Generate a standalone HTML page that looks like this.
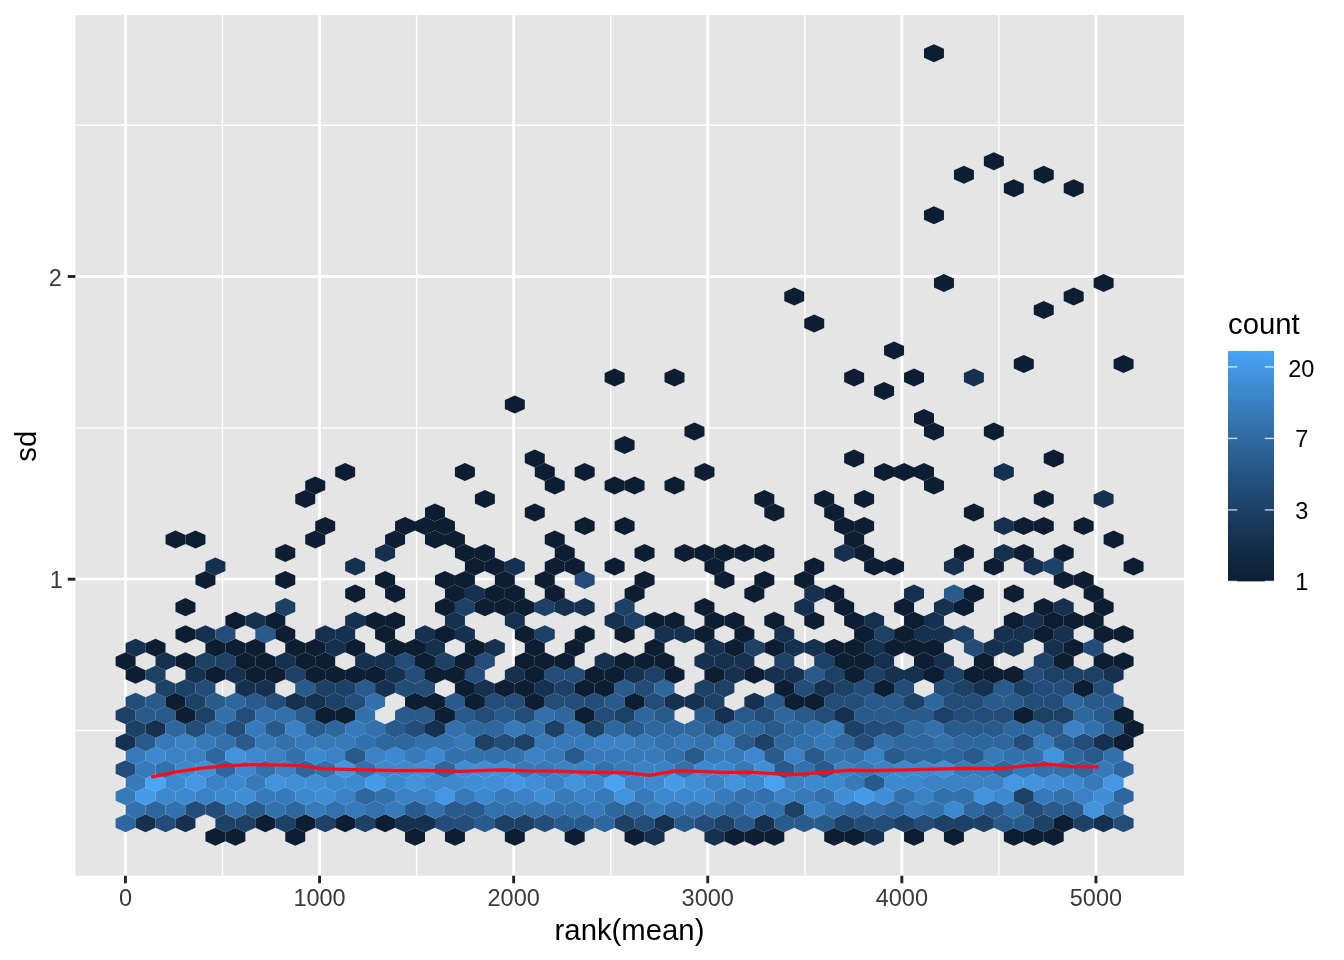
<!DOCTYPE html><html><head><meta charset="utf-8"><title>meanSdPlot</title><style>html,body{margin:0;padding:0;background:#fff}svg{display:block;will-change:transform}text{font-family:"Liberation Sans",sans-serif}</style></head><body>
<svg width="1344" height="960" viewBox="0 0 1344 960">
<rect width="1344" height="960" fill="#fff"/>
<rect x="75.4" y="15.1" width="1108.5" height="860.6" fill="#e5e5e5"/>
<line x1="222.50" x2="222.50" y1="15.1" y2="875.7" stroke="#fff" stroke-width="1.45"/>
<line x1="416.60" x2="416.60" y1="15.1" y2="875.7" stroke="#fff" stroke-width="1.45"/>
<line x1="610.70" x2="610.70" y1="15.1" y2="875.7" stroke="#fff" stroke-width="1.45"/>
<line x1="804.80" x2="804.80" y1="15.1" y2="875.7" stroke="#fff" stroke-width="1.45"/>
<line x1="998.90" x2="998.90" y1="15.1" y2="875.7" stroke="#fff" stroke-width="1.45"/>
<line x1="75.4" x2="1183.9" y1="730.55" y2="730.55" stroke="#fff" stroke-width="1.45"/>
<line x1="75.4" x2="1183.9" y1="427.85" y2="427.85" stroke="#fff" stroke-width="1.45"/>
<line x1="75.4" x2="1183.9" y1="125.20" y2="125.20" stroke="#fff" stroke-width="1.45"/>
<line x1="125.45" x2="125.45" y1="15.1" y2="875.7" stroke="#fff" stroke-width="2.8"/>
<line x1="319.55" x2="319.55" y1="15.1" y2="875.7" stroke="#fff" stroke-width="2.8"/>
<line x1="513.65" x2="513.65" y1="15.1" y2="875.7" stroke="#fff" stroke-width="2.8"/>
<line x1="707.75" x2="707.75" y1="15.1" y2="875.7" stroke="#fff" stroke-width="2.8"/>
<line x1="901.85" x2="901.85" y1="15.1" y2="875.7" stroke="#fff" stroke-width="2.8"/>
<line x1="1095.95" x2="1095.95" y1="15.1" y2="875.7" stroke="#fff" stroke-width="2.8"/>
<line x1="75.4" x2="1183.9" y1="579.20" y2="579.20" stroke="#fff" stroke-width="2.8"/>
<line x1="75.4" x2="1183.9" y1="276.50" y2="276.50" stroke="#fff" stroke-width="2.8"/>
<g stroke-width="0.5">
<polygon points="215.42,827.79 225.40,832.30 225.40,841.30 215.42,845.81 205.44,841.30 205.44,832.30" fill="#0d1e33"/>
<polygon points="235.38,827.79 245.36,832.30 245.36,841.30 235.38,845.81 225.40,841.30 225.40,832.30" fill="#0d1e33"/>
<polygon points="295.26,827.79 305.24,832.30 305.24,841.30 295.26,845.81 285.28,841.30 285.28,832.30" fill="#0d1e33"/>
<polygon points="415.02,827.79 425.00,832.30 425.00,841.30 415.02,845.81 405.04,841.30 405.04,832.30" fill="#0d1e33"/>
<polygon points="454.94,827.79 464.92,832.30 464.92,841.30 454.94,845.81 444.96,841.30 444.96,832.30" fill="#0d1e33"/>
<polygon points="514.82,827.79 524.80,832.30 524.80,841.30 514.82,845.81 504.84,841.30 504.84,832.30" fill="#0d1e33"/>
<polygon points="574.70,827.79 584.68,832.30 584.68,841.30 574.70,845.81 564.72,841.30 564.72,832.30" fill="#0d1e33"/>
<polygon points="634.58,827.79 644.56,832.30 644.56,841.30 634.58,845.81 624.60,841.30 624.60,832.30" fill="#0d1e33"/>
<polygon points="654.54,827.79 664.52,832.30 664.52,841.30 654.54,845.81 644.56,841.30 644.56,832.30" fill="#16314f"/>
<polygon points="714.42,827.79 724.40,832.30 724.40,841.30 714.42,845.81 704.44,841.30 704.44,832.30" fill="#16314f"/>
<polygon points="734.38,827.79 744.36,832.30 744.36,841.30 734.38,845.81 724.40,841.30 724.40,832.30" fill="#0d1e33"/>
<polygon points="754.34,827.79 764.32,832.30 764.32,841.30 754.34,845.81 744.36,841.30 744.36,832.30" fill="#0d1e33"/>
<polygon points="774.30,827.79 784.28,832.30 784.28,841.30 774.30,845.81 764.32,841.30 764.32,832.30" fill="#0d1e33"/>
<polygon points="834.18,827.79 844.16,832.30 844.16,841.30 834.18,845.81 824.20,841.30 824.20,832.30" fill="#0d1e33"/>
<polygon points="854.14,827.79 864.12,832.30 864.12,841.30 854.14,845.81 844.16,841.30 844.16,832.30" fill="#0d1e33"/>
<polygon points="874.10,827.79 884.08,832.30 884.08,841.30 874.10,845.81 864.12,841.30 864.12,832.30" fill="#16314f"/>
<polygon points="914.02,827.79 924.00,832.30 924.00,841.30 914.02,845.81 904.04,841.30 904.04,832.30" fill="#0d1e33"/>
<polygon points="953.94,827.79 963.92,832.30 963.92,841.30 953.94,845.81 943.96,841.30 943.96,832.30" fill="#0d1e33"/>
<polygon points="1013.82,827.79 1023.80,832.30 1023.80,841.30 1013.82,845.81 1003.84,841.30 1003.84,832.30" fill="#0d1e33"/>
<polygon points="1033.78,827.79 1043.76,832.30 1043.76,841.30 1033.78,845.81 1023.80,841.30 1023.80,832.30" fill="#0d1e33"/>
<polygon points="1053.74,827.79 1063.72,832.30 1063.72,841.30 1053.74,845.81 1043.76,841.30 1043.76,832.30" fill="#0d1e33"/>
<polygon points="125.60,814.28 135.58,818.79 135.58,827.79 125.60,832.30 115.62,827.79 115.62,818.79" fill="#2e679d"/>
<polygon points="145.56,814.28 155.54,818.79 155.54,827.79 145.56,832.30 135.58,827.79 135.58,818.79" fill="#16314f"/>
<polygon points="165.52,814.28 175.50,818.79 175.50,827.79 165.52,832.30 155.54,827.79 155.54,818.79" fill="#234d78"/>
<polygon points="185.48,814.28 195.46,818.79 195.46,827.79 185.48,832.30 175.50,827.79 175.50,818.79" fill="#16314f"/>
<polygon points="225.40,814.28 235.38,818.79 235.38,827.79 225.40,832.30 215.42,827.79 215.42,818.79" fill="#1d4065"/>
<polygon points="245.36,814.28 255.34,818.79 255.34,827.79 245.36,832.30 235.38,827.79 235.38,818.79" fill="#1d4065"/>
<polygon points="265.32,814.28 275.30,818.79 275.30,827.79 265.32,832.30 255.34,827.79 255.34,818.79" fill="#0d1e33"/>
<polygon points="285.28,814.28 295.26,818.79 295.26,827.79 285.28,832.30 275.30,827.79 275.30,818.79" fill="#1d4065"/>
<polygon points="305.24,814.28 315.22,818.79 315.22,827.79 305.24,832.30 295.26,827.79 295.26,818.79" fill="#0d1e33"/>
<polygon points="325.20,814.28 335.18,818.79 335.18,827.79 325.20,832.30 315.22,827.79 315.22,818.79" fill="#1d4065"/>
<polygon points="345.16,814.28 355.14,818.79 355.14,827.79 345.16,832.30 335.18,827.79 335.18,818.79" fill="#0d1e33"/>
<polygon points="365.12,814.28 375.10,818.79 375.10,827.79 365.12,832.30 355.14,827.79 355.14,818.79" fill="#1d4065"/>
<polygon points="385.08,814.28 395.06,818.79 395.06,827.79 385.08,832.30 375.10,827.79 375.10,818.79" fill="#0d1e33"/>
<polygon points="405.04,814.28 415.02,818.79 415.02,827.79 405.04,832.30 395.06,827.79 395.06,818.79" fill="#16314f"/>
<polygon points="425.00,814.28 434.98,818.79 434.98,827.79 425.00,832.30 415.02,827.79 415.02,818.79" fill="#16314f"/>
<polygon points="444.96,814.28 454.94,818.79 454.94,827.79 444.96,832.30 434.98,827.79 434.98,818.79" fill="#234d78"/>
<polygon points="464.92,814.28 474.90,818.79 474.90,827.79 464.92,832.30 454.94,827.79 454.94,818.79" fill="#234d78"/>
<polygon points="484.88,814.28 494.86,818.79 494.86,827.79 484.88,832.30 474.90,827.79 474.90,818.79" fill="#285a8b"/>
<polygon points="504.84,814.28 514.82,818.79 514.82,827.79 504.84,832.30 494.86,827.79 494.86,818.79" fill="#1d4065"/>
<polygon points="524.80,814.28 534.78,818.79 534.78,827.79 524.80,832.30 514.82,827.79 514.82,818.79" fill="#1d4065"/>
<polygon points="544.76,814.28 554.74,818.79 554.74,827.79 544.76,832.30 534.78,827.79 534.78,818.79" fill="#234d78"/>
<polygon points="564.72,814.28 574.70,818.79 574.70,827.79 564.72,832.30 554.74,827.79 554.74,818.79" fill="#285a8b"/>
<polygon points="584.68,814.28 594.66,818.79 594.66,827.79 584.68,832.30 574.70,827.79 574.70,818.79" fill="#285a8b"/>
<polygon points="604.64,814.28 614.62,818.79 614.62,827.79 604.64,832.30 594.66,827.79 594.66,818.79" fill="#2e679d"/>
<polygon points="624.60,814.28 634.58,818.79 634.58,827.79 624.60,832.30 614.62,827.79 614.62,818.79" fill="#1d4065"/>
<polygon points="644.56,814.28 654.54,818.79 654.54,827.79 644.56,832.30 634.58,827.79 634.58,818.79" fill="#234d78"/>
<polygon points="664.52,814.28 674.50,818.79 674.50,827.79 664.52,832.30 654.54,827.79 654.54,818.79" fill="#16314f"/>
<polygon points="684.48,814.28 694.46,818.79 694.46,827.79 684.48,832.30 674.50,827.79 674.50,818.79" fill="#285a8b"/>
<polygon points="704.44,814.28 714.42,818.79 714.42,827.79 704.44,832.30 694.46,827.79 694.46,818.79" fill="#234d78"/>
<polygon points="724.40,814.28 734.38,818.79 734.38,827.79 724.40,832.30 714.42,827.79 714.42,818.79" fill="#1d4065"/>
<polygon points="744.36,814.28 754.34,818.79 754.34,827.79 744.36,832.30 734.38,827.79 734.38,818.79" fill="#285a8b"/>
<polygon points="764.32,814.28 774.30,818.79 774.30,827.79 764.32,832.30 754.34,827.79 754.34,818.79" fill="#16314f"/>
<polygon points="784.28,814.28 794.26,818.79 794.26,827.79 784.28,832.30 774.30,827.79 774.30,818.79" fill="#285a8b"/>
<polygon points="804.24,814.28 814.22,818.79 814.22,827.79 804.24,832.30 794.26,827.79 794.26,818.79" fill="#285a8b"/>
<polygon points="824.20,814.28 834.18,818.79 834.18,827.79 824.20,832.30 814.22,827.79 814.22,818.79" fill="#285a8b"/>
<polygon points="844.16,814.28 854.14,818.79 854.14,827.79 844.16,832.30 834.18,827.79 834.18,818.79" fill="#1d4065"/>
<polygon points="864.12,814.28 874.10,818.79 874.10,827.79 864.12,832.30 854.14,827.79 854.14,818.79" fill="#234d78"/>
<polygon points="884.08,814.28 894.06,818.79 894.06,827.79 884.08,832.30 874.10,827.79 874.10,818.79" fill="#234d78"/>
<polygon points="904.04,814.28 914.02,818.79 914.02,827.79 904.04,832.30 894.06,827.79 894.06,818.79" fill="#1d4065"/>
<polygon points="924.00,814.28 933.98,818.79 933.98,827.79 924.00,832.30 914.02,827.79 914.02,818.79" fill="#234d78"/>
<polygon points="943.96,814.28 953.94,818.79 953.94,827.79 943.96,832.30 933.98,827.79 933.98,818.79" fill="#1d4065"/>
<polygon points="963.92,814.28 973.90,818.79 973.90,827.79 963.92,832.30 953.94,827.79 953.94,818.79" fill="#1d4065"/>
<polygon points="983.88,814.28 993.86,818.79 993.86,827.79 983.88,832.30 973.90,827.79 973.90,818.79" fill="#1d4065"/>
<polygon points="1003.84,814.28 1013.82,818.79 1013.82,827.79 1003.84,832.30 993.86,827.79 993.86,818.79" fill="#285a8b"/>
<polygon points="1023.80,814.28 1033.78,818.79 1033.78,827.79 1023.80,832.30 1013.82,827.79 1013.82,818.79" fill="#285a8b"/>
<polygon points="1043.76,814.28 1053.74,818.79 1053.74,827.79 1043.76,832.30 1033.78,827.79 1033.78,818.79" fill="#1d4065"/>
<polygon points="1063.72,814.28 1073.70,818.79 1073.70,827.79 1063.72,832.30 1053.74,827.79 1053.74,818.79" fill="#0d1e33"/>
<polygon points="1083.68,814.28 1093.66,818.79 1093.66,827.79 1083.68,832.30 1073.70,827.79 1073.70,818.79" fill="#1d4065"/>
<polygon points="1103.64,814.28 1113.62,818.79 1113.62,827.79 1103.64,832.30 1093.66,827.79 1093.66,818.79" fill="#16314f"/>
<polygon points="1123.60,814.28 1133.58,818.79 1133.58,827.79 1123.60,832.30 1113.62,827.79 1113.62,818.79" fill="#234d78"/>
<polygon points="135.58,800.77 145.56,805.28 145.56,814.28 135.58,818.79 125.60,814.28 125.60,805.28" fill="#3271ab"/>
<polygon points="155.54,800.77 165.52,805.28 165.52,814.28 155.54,818.79 145.56,814.28 145.56,805.28" fill="#2e679d"/>
<polygon points="175.50,800.77 185.48,805.28 185.48,814.28 175.50,818.79 165.52,814.28 165.52,805.28" fill="#3271ab"/>
<polygon points="195.46,800.77 205.44,805.28 205.44,814.28 195.46,818.79 185.48,814.28 185.48,805.28" fill="#234d78"/>
<polygon points="215.42,800.77 225.40,805.28 225.40,814.28 215.42,818.79 205.44,814.28 205.44,805.28" fill="#234d78"/>
<polygon points="235.38,800.77 245.36,805.28 245.36,814.28 235.38,818.79 225.40,814.28 225.40,805.28" fill="#3271ab"/>
<polygon points="255.34,800.77 265.32,805.28 265.32,814.28 255.34,818.79 245.36,814.28 245.36,805.28" fill="#285a8b"/>
<polygon points="275.30,800.77 285.28,805.28 285.28,814.28 275.30,818.79 265.32,814.28 265.32,805.28" fill="#3271ab"/>
<polygon points="295.26,800.77 305.24,805.28 305.24,814.28 295.26,818.79 285.28,814.28 285.28,805.28" fill="#2e679d"/>
<polygon points="315.22,800.77 325.20,805.28 325.20,814.28 315.22,818.79 305.24,814.28 305.24,805.28" fill="#377ab9"/>
<polygon points="335.18,800.77 345.16,805.28 345.16,814.28 335.18,818.79 325.20,814.28 325.20,805.28" fill="#3271ab"/>
<polygon points="355.14,800.77 365.12,805.28 365.12,814.28 355.14,818.79 345.16,814.28 345.16,805.28" fill="#377ab9"/>
<polygon points="375.10,800.77 385.08,805.28 385.08,814.28 375.10,818.79 365.12,814.28 365.12,805.28" fill="#3271ab"/>
<polygon points="395.06,800.77 405.04,805.28 405.04,814.28 395.06,818.79 385.08,814.28 385.08,805.28" fill="#377ab9"/>
<polygon points="415.02,800.77 425.00,805.28 425.00,814.28 415.02,818.79 405.04,814.28 405.04,805.28" fill="#285a8b"/>
<polygon points="434.98,800.77 444.96,805.28 444.96,814.28 434.98,818.79 425.00,814.28 425.00,805.28" fill="#3271ab"/>
<polygon points="454.94,800.77 464.92,805.28 464.92,814.28 454.94,818.79 444.96,814.28 444.96,805.28" fill="#285a8b"/>
<polygon points="474.90,800.77 484.88,805.28 484.88,814.28 474.90,818.79 464.92,814.28 464.92,805.28" fill="#285a8b"/>
<polygon points="494.86,800.77 504.84,805.28 504.84,814.28 494.86,818.79 484.88,814.28 484.88,805.28" fill="#3271ab"/>
<polygon points="514.82,800.77 524.80,805.28 524.80,814.28 514.82,818.79 504.84,814.28 504.84,805.28" fill="#3271ab"/>
<polygon points="534.78,800.77 544.76,805.28 544.76,814.28 534.78,818.79 524.80,814.28 524.80,805.28" fill="#3271ab"/>
<polygon points="554.74,800.77 564.72,805.28 564.72,814.28 554.74,818.79 544.76,814.28 544.76,805.28" fill="#3271ab"/>
<polygon points="574.70,800.77 584.68,805.28 584.68,814.28 574.70,818.79 564.72,814.28 564.72,805.28" fill="#3271ab"/>
<polygon points="594.66,800.77 604.64,805.28 604.64,814.28 594.66,818.79 584.68,814.28 584.68,805.28" fill="#377ab9"/>
<polygon points="614.62,800.77 624.60,805.28 624.60,814.28 614.62,818.79 604.64,814.28 604.64,805.28" fill="#2e679d"/>
<polygon points="634.58,800.77 644.56,805.28 644.56,814.28 634.58,818.79 624.60,814.28 624.60,805.28" fill="#2e679d"/>
<polygon points="654.54,800.77 664.52,805.28 664.52,814.28 654.54,818.79 644.56,814.28 644.56,805.28" fill="#377ab9"/>
<polygon points="674.50,800.77 684.48,805.28 684.48,814.28 674.50,818.79 664.52,814.28 664.52,805.28" fill="#3271ab"/>
<polygon points="694.46,800.77 704.44,805.28 704.44,814.28 694.46,818.79 684.48,814.28 684.48,805.28" fill="#3271ab"/>
<polygon points="714.42,800.77 724.40,805.28 724.40,814.28 714.42,818.79 704.44,814.28 704.44,805.28" fill="#3271ab"/>
<polygon points="734.38,800.77 744.36,805.28 744.36,814.28 734.38,818.79 724.40,814.28 724.40,805.28" fill="#2e679d"/>
<polygon points="754.34,800.77 764.32,805.28 764.32,814.28 754.34,818.79 744.36,814.28 744.36,805.28" fill="#377ab9"/>
<polygon points="774.30,800.77 784.28,805.28 784.28,814.28 774.30,818.79 764.32,814.28 764.32,805.28" fill="#3271ab"/>
<polygon points="794.26,800.77 804.24,805.28 804.24,814.28 794.26,818.79 784.28,814.28 784.28,805.28" fill="#1d4065"/>
<polygon points="814.22,800.77 824.20,805.28 824.20,814.28 814.22,818.79 804.24,814.28 804.24,805.28" fill="#3a82c3"/>
<polygon points="834.18,800.77 844.16,805.28 844.16,814.28 834.18,818.79 824.20,814.28 824.20,805.28" fill="#3271ab"/>
<polygon points="854.14,800.77 864.12,805.28 864.12,814.28 854.14,818.79 844.16,814.28 844.16,805.28" fill="#2e679d"/>
<polygon points="874.10,800.77 884.08,805.28 884.08,814.28 874.10,818.79 864.12,814.28 864.12,805.28" fill="#3271ab"/>
<polygon points="894.06,800.77 904.04,805.28 904.04,814.28 894.06,818.79 884.08,814.28 884.08,805.28" fill="#2e679d"/>
<polygon points="914.02,800.77 924.00,805.28 924.00,814.28 914.02,818.79 904.04,814.28 904.04,805.28" fill="#377ab9"/>
<polygon points="933.98,800.77 943.96,805.28 943.96,814.28 933.98,818.79 924.00,814.28 924.00,805.28" fill="#3271ab"/>
<polygon points="953.94,800.77 963.92,805.28 963.92,814.28 953.94,818.79 943.96,814.28 943.96,805.28" fill="#3d89cf"/>
<polygon points="973.90,800.77 983.88,805.28 983.88,814.28 973.90,818.79 963.92,814.28 963.92,805.28" fill="#2e679d"/>
<polygon points="993.86,800.77 1003.84,805.28 1003.84,814.28 993.86,818.79 983.88,814.28 983.88,805.28" fill="#285a8b"/>
<polygon points="1013.82,800.77 1023.80,805.28 1023.80,814.28 1013.82,818.79 1003.84,814.28 1003.84,805.28" fill="#3271ab"/>
<polygon points="1033.78,800.77 1043.76,805.28 1043.76,814.28 1033.78,818.79 1023.80,814.28 1023.80,805.28" fill="#234d78"/>
<polygon points="1053.74,800.77 1063.72,805.28 1063.72,814.28 1053.74,818.79 1043.76,814.28 1043.76,805.28" fill="#285a8b"/>
<polygon points="1073.70,800.77 1083.68,805.28 1083.68,814.28 1073.70,818.79 1063.72,814.28 1063.72,805.28" fill="#285a8b"/>
<polygon points="1093.66,800.77 1103.64,805.28 1103.64,814.28 1093.66,818.79 1083.68,814.28 1083.68,805.28" fill="#4193db"/>
<polygon points="1113.62,800.77 1123.60,805.28 1123.60,814.28 1113.62,818.79 1103.64,814.28 1103.64,805.28" fill="#3271ab"/>
<polygon points="125.60,787.26 135.58,791.77 135.58,800.77 125.60,805.28 115.62,800.77 115.62,791.77" fill="#377ab9"/>
<polygon points="145.56,787.26 155.54,791.77 155.54,800.77 145.56,805.28 135.58,800.77 135.58,791.77" fill="#459be7"/>
<polygon points="165.52,787.26 175.50,791.77 175.50,800.77 165.52,805.28 155.54,800.77 155.54,791.77" fill="#3d89cf"/>
<polygon points="185.48,787.26 195.46,791.77 195.46,800.77 185.48,805.28 175.50,800.77 175.50,791.77" fill="#3d89cf"/>
<polygon points="205.44,787.26 215.42,791.77 215.42,800.77 205.44,805.28 195.46,800.77 195.46,791.77" fill="#3a82c3"/>
<polygon points="225.40,787.26 235.38,791.77 235.38,800.77 225.40,805.28 215.42,800.77 215.42,791.77" fill="#3d89cf"/>
<polygon points="245.36,787.26 255.34,791.77 255.34,800.77 245.36,805.28 235.38,800.77 235.38,791.77" fill="#3f8ed6"/>
<polygon points="265.32,787.26 275.30,791.77 275.30,800.77 265.32,805.28 255.34,800.77 255.34,791.77" fill="#377ab9"/>
<polygon points="285.28,787.26 295.26,791.77 295.26,800.77 285.28,805.28 275.30,800.77 275.30,791.77" fill="#377ab9"/>
<polygon points="305.24,787.26 315.22,791.77 315.22,800.77 305.24,805.28 295.26,800.77 295.26,791.77" fill="#3d89cf"/>
<polygon points="325.20,787.26 335.18,791.77 335.18,800.77 325.20,805.28 315.22,800.77 315.22,791.77" fill="#3f8ed6"/>
<polygon points="345.16,787.26 355.14,791.77 355.14,800.77 345.16,805.28 335.18,800.77 335.18,791.77" fill="#3a82c3"/>
<polygon points="365.12,787.26 375.10,791.77 375.10,800.77 365.12,805.28 355.14,800.77 355.14,791.77" fill="#2e679d"/>
<polygon points="385.08,787.26 395.06,791.77 395.06,800.77 385.08,805.28 375.10,800.77 375.10,791.77" fill="#3271ab"/>
<polygon points="405.04,787.26 415.02,791.77 415.02,800.77 405.04,805.28 395.06,800.77 395.06,791.77" fill="#3a82c3"/>
<polygon points="425.00,787.26 434.98,791.77 434.98,800.77 425.00,805.28 415.02,800.77 415.02,791.77" fill="#3a82c3"/>
<polygon points="444.96,787.26 454.94,791.77 454.94,800.77 444.96,805.28 434.98,800.77 434.98,791.77" fill="#4397e2"/>
<polygon points="464.92,787.26 474.90,791.77 474.90,800.77 464.92,805.28 454.94,800.77 454.94,791.77" fill="#377ab9"/>
<polygon points="484.88,787.26 494.86,791.77 494.86,800.77 484.88,805.28 474.90,800.77 474.90,791.77" fill="#3d89cf"/>
<polygon points="504.84,787.26 514.82,791.77 514.82,800.77 504.84,805.28 494.86,800.77 494.86,791.77" fill="#377ab9"/>
<polygon points="524.80,787.26 534.78,791.77 534.78,800.77 524.80,805.28 514.82,800.77 514.82,791.77" fill="#3a82c3"/>
<polygon points="544.76,787.26 554.74,791.77 554.74,800.77 544.76,805.28 534.78,800.77 534.78,791.77" fill="#3f8ed6"/>
<polygon points="564.72,787.26 574.70,791.77 574.70,800.77 564.72,805.28 554.74,800.77 554.74,791.77" fill="#377ab9"/>
<polygon points="584.68,787.26 594.66,791.77 594.66,800.77 584.68,805.28 574.70,800.77 574.70,791.77" fill="#3a82c3"/>
<polygon points="604.64,787.26 614.62,791.77 614.62,800.77 604.64,805.28 594.66,800.77 594.66,791.77" fill="#377ab9"/>
<polygon points="624.60,787.26 634.58,791.77 634.58,800.77 624.60,805.28 614.62,800.77 614.62,791.77" fill="#4193db"/>
<polygon points="644.56,787.26 654.54,791.77 654.54,800.77 644.56,805.28 634.58,800.77 634.58,791.77" fill="#377ab9"/>
<polygon points="664.52,787.26 674.50,791.77 674.50,800.77 664.52,805.28 654.54,800.77 654.54,791.77" fill="#3d89cf"/>
<polygon points="684.48,787.26 694.46,791.77 694.46,800.77 684.48,805.28 674.50,800.77 674.50,791.77" fill="#3d89cf"/>
<polygon points="704.44,787.26 714.42,791.77 714.42,800.77 704.44,805.28 694.46,800.77 694.46,791.77" fill="#3d89cf"/>
<polygon points="724.40,787.26 734.38,791.77 734.38,800.77 724.40,805.28 714.42,800.77 714.42,791.77" fill="#377ab9"/>
<polygon points="744.36,787.26 754.34,791.77 754.34,800.77 744.36,805.28 734.38,800.77 734.38,791.77" fill="#3271ab"/>
<polygon points="764.32,787.26 774.30,791.77 774.30,800.77 764.32,805.28 754.34,800.77 754.34,791.77" fill="#3271ab"/>
<polygon points="784.28,787.26 794.26,791.77 794.26,800.77 784.28,805.28 774.30,800.77 774.30,791.77" fill="#3a82c3"/>
<polygon points="804.24,787.26 814.22,791.77 814.22,800.77 804.24,805.28 794.26,800.77 794.26,791.77" fill="#377ab9"/>
<polygon points="824.20,787.26 834.18,791.77 834.18,800.77 824.20,805.28 814.22,800.77 814.22,791.77" fill="#3271ab"/>
<polygon points="844.16,787.26 854.14,791.77 854.14,800.77 844.16,805.28 834.18,800.77 834.18,791.77" fill="#3f8ed6"/>
<polygon points="864.12,787.26 874.10,791.77 874.10,800.77 864.12,805.28 854.14,800.77 854.14,791.77" fill="#459be7"/>
<polygon points="884.08,787.26 894.06,791.77 894.06,800.77 884.08,805.28 874.10,800.77 874.10,791.77" fill="#3f8ed6"/>
<polygon points="904.04,787.26 914.02,791.77 914.02,800.77 904.04,805.28 894.06,800.77 894.06,791.77" fill="#3271ab"/>
<polygon points="924.00,787.26 933.98,791.77 933.98,800.77 924.00,805.28 914.02,800.77 914.02,791.77" fill="#3a82c3"/>
<polygon points="943.96,787.26 953.94,791.77 953.94,800.77 943.96,805.28 933.98,800.77 933.98,791.77" fill="#3271ab"/>
<polygon points="963.92,787.26 973.90,791.77 973.90,800.77 963.92,805.28 953.94,800.77 953.94,791.77" fill="#3271ab"/>
<polygon points="983.88,787.26 993.86,791.77 993.86,800.77 983.88,805.28 973.90,800.77 973.90,791.77" fill="#4193db"/>
<polygon points="1003.84,787.26 1013.82,791.77 1013.82,800.77 1003.84,805.28 993.86,800.77 993.86,791.77" fill="#3d89cf"/>
<polygon points="1023.80,787.26 1033.78,791.77 1033.78,800.77 1023.80,805.28 1013.82,800.77 1013.82,791.77" fill="#1d4065"/>
<polygon points="1043.76,787.26 1053.74,791.77 1053.74,800.77 1043.76,805.28 1033.78,800.77 1033.78,791.77" fill="#377ab9"/>
<polygon points="1063.72,787.26 1073.70,791.77 1073.70,800.77 1063.72,805.28 1053.74,800.77 1053.74,791.77" fill="#3271ab"/>
<polygon points="1083.68,787.26 1093.66,791.77 1093.66,800.77 1083.68,805.28 1073.70,800.77 1073.70,791.77" fill="#3a82c3"/>
<polygon points="1103.64,787.26 1113.62,791.77 1113.62,800.77 1103.64,805.28 1093.66,800.77 1093.66,791.77" fill="#3f8ed6"/>
<polygon points="1123.60,787.26 1133.58,791.77 1133.58,800.77 1123.60,805.28 1113.62,800.77 1113.62,791.77" fill="#2e679d"/>
<polygon points="135.58,773.75 145.56,778.26 145.56,787.26 135.58,791.77 125.60,787.26 125.60,778.26" fill="#377ab9"/>
<polygon points="155.54,773.75 165.52,778.26 165.52,787.26 155.54,791.77 145.56,787.26 145.56,778.26" fill="#49a5f5"/>
<polygon points="175.50,773.75 185.48,778.26 185.48,787.26 175.50,791.77 165.52,787.26 165.52,778.26" fill="#3d89cf"/>
<polygon points="195.46,773.75 205.44,778.26 205.44,787.26 195.46,791.77 185.48,787.26 185.48,778.26" fill="#4397e2"/>
<polygon points="215.42,773.75 225.40,778.26 225.40,787.26 215.42,791.77 205.44,787.26 205.44,778.26" fill="#3a82c3"/>
<polygon points="235.38,773.75 245.36,778.26 245.36,787.26 235.38,791.77 225.40,787.26 225.40,778.26" fill="#3d89cf"/>
<polygon points="255.34,773.75 265.32,778.26 265.32,787.26 255.34,791.77 245.36,787.26 245.36,778.26" fill="#377ab9"/>
<polygon points="275.30,773.75 285.28,778.26 285.28,787.26 275.30,791.77 265.32,787.26 265.32,778.26" fill="#4193db"/>
<polygon points="295.26,773.75 305.24,778.26 305.24,787.26 295.26,791.77 285.28,787.26 285.28,778.26" fill="#3f8ed6"/>
<polygon points="315.22,773.75 325.20,778.26 325.20,787.26 315.22,791.77 305.24,787.26 305.24,778.26" fill="#3f8ed6"/>
<polygon points="335.18,773.75 345.16,778.26 345.16,787.26 335.18,791.77 325.20,787.26 325.20,778.26" fill="#3d89cf"/>
<polygon points="355.14,773.75 365.12,778.26 365.12,787.26 355.14,791.77 345.16,787.26 345.16,778.26" fill="#3d89cf"/>
<polygon points="375.10,773.75 385.08,778.26 385.08,787.26 375.10,791.77 365.12,787.26 365.12,778.26" fill="#459be7"/>
<polygon points="395.06,773.75 405.04,778.26 405.04,787.26 395.06,791.77 385.08,787.26 385.08,778.26" fill="#3d89cf"/>
<polygon points="415.02,773.75 425.00,778.26 425.00,787.26 415.02,791.77 405.04,787.26 405.04,778.26" fill="#4193db"/>
<polygon points="434.98,773.75 444.96,778.26 444.96,787.26 434.98,791.77 425.00,787.26 425.00,778.26" fill="#3d89cf"/>
<polygon points="454.94,773.75 464.92,778.26 464.92,787.26 454.94,791.77 444.96,787.26 444.96,778.26" fill="#3d89cf"/>
<polygon points="474.90,773.75 484.88,778.26 484.88,787.26 474.90,791.77 464.92,787.26 464.92,778.26" fill="#3f8ed6"/>
<polygon points="494.86,773.75 504.84,778.26 504.84,787.26 494.86,791.77 484.88,787.26 484.88,778.26" fill="#3f8ed6"/>
<polygon points="514.82,773.75 524.80,778.26 524.80,787.26 514.82,791.77 504.84,787.26 504.84,778.26" fill="#4397e2"/>
<polygon points="534.78,773.75 544.76,778.26 544.76,787.26 534.78,791.77 524.80,787.26 524.80,778.26" fill="#3f8ed6"/>
<polygon points="554.74,773.75 564.72,778.26 564.72,787.26 554.74,791.77 544.76,787.26 544.76,778.26" fill="#3a82c3"/>
<polygon points="574.70,773.75 584.68,778.26 584.68,787.26 574.70,791.77 564.72,787.26 564.72,778.26" fill="#4193db"/>
<polygon points="594.66,773.75 604.64,778.26 604.64,787.26 594.66,791.77 584.68,787.26 584.68,778.26" fill="#3d89cf"/>
<polygon points="614.62,773.75 624.60,778.26 624.60,787.26 614.62,791.77 604.64,787.26 604.64,778.26" fill="#48a1f1"/>
<polygon points="634.58,773.75 644.56,778.26 644.56,787.26 634.58,791.77 624.60,787.26 624.60,778.26" fill="#3a82c3"/>
<polygon points="654.54,773.75 664.52,778.26 664.52,787.26 654.54,791.77 644.56,787.26 644.56,778.26" fill="#3d89cf"/>
<polygon points="674.50,773.75 684.48,778.26 684.48,787.26 674.50,791.77 664.52,787.26 664.52,778.26" fill="#459be7"/>
<polygon points="694.46,773.75 704.44,778.26 704.44,787.26 694.46,791.77 684.48,787.26 684.48,778.26" fill="#3f8ed6"/>
<polygon points="714.42,773.75 724.40,778.26 724.40,787.26 714.42,791.77 704.44,787.26 704.44,778.26" fill="#3a82c3"/>
<polygon points="734.38,773.75 744.36,778.26 744.36,787.26 734.38,791.77 724.40,787.26 724.40,778.26" fill="#4193db"/>
<polygon points="754.34,773.75 764.32,778.26 764.32,787.26 754.34,791.77 744.36,787.26 744.36,778.26" fill="#3d89cf"/>
<polygon points="774.30,773.75 784.28,778.26 784.28,787.26 774.30,791.77 764.32,787.26 764.32,778.26" fill="#48a1f1"/>
<polygon points="794.26,773.75 804.24,778.26 804.24,787.26 794.26,791.77 784.28,787.26 784.28,778.26" fill="#3a82c3"/>
<polygon points="814.22,773.75 824.20,778.26 824.20,787.26 814.22,791.77 804.24,787.26 804.24,778.26" fill="#3d89cf"/>
<polygon points="834.18,773.75 844.16,778.26 844.16,787.26 834.18,791.77 824.20,787.26 824.20,778.26" fill="#3d89cf"/>
<polygon points="854.14,773.75 864.12,778.26 864.12,787.26 854.14,791.77 844.16,787.26 844.16,778.26" fill="#377ab9"/>
<polygon points="874.10,773.75 884.08,778.26 884.08,787.26 874.10,791.77 864.12,787.26 864.12,778.26" fill="#285a8b"/>
<polygon points="894.06,773.75 904.04,778.26 904.04,787.26 894.06,791.77 884.08,787.26 884.08,778.26" fill="#3d89cf"/>
<polygon points="914.02,773.75 924.00,778.26 924.00,787.26 914.02,791.77 904.04,787.26 904.04,778.26" fill="#3d89cf"/>
<polygon points="933.98,773.75 943.96,778.26 943.96,787.26 933.98,791.77 924.00,787.26 924.00,778.26" fill="#3a82c3"/>
<polygon points="953.94,773.75 963.92,778.26 963.92,787.26 953.94,791.77 943.96,787.26 943.96,778.26" fill="#3a82c3"/>
<polygon points="973.90,773.75 983.88,778.26 983.88,787.26 973.90,791.77 963.92,787.26 963.92,778.26" fill="#3a82c3"/>
<polygon points="993.86,773.75 1003.84,778.26 1003.84,787.26 993.86,791.77 983.88,787.26 983.88,778.26" fill="#3a82c3"/>
<polygon points="1013.82,773.75 1023.80,778.26 1023.80,787.26 1013.82,791.77 1003.84,787.26 1003.84,778.26" fill="#4397e2"/>
<polygon points="1033.78,773.75 1043.76,778.26 1043.76,787.26 1033.78,791.77 1023.80,787.26 1023.80,778.26" fill="#4193db"/>
<polygon points="1053.74,773.75 1063.72,778.26 1063.72,787.26 1053.74,791.77 1043.76,787.26 1043.76,778.26" fill="#3f8ed6"/>
<polygon points="1073.70,773.75 1083.68,778.26 1083.68,787.26 1073.70,791.77 1063.72,787.26 1063.72,778.26" fill="#3d89cf"/>
<polygon points="1093.66,773.75 1103.64,778.26 1103.64,787.26 1093.66,791.77 1083.68,787.26 1083.68,778.26" fill="#377ab9"/>
<polygon points="1113.62,773.75 1123.60,778.26 1123.60,787.26 1113.62,791.77 1103.64,787.26 1103.64,778.26" fill="#4397e2"/>
<polygon points="125.60,760.24 135.58,764.75 135.58,773.75 125.60,778.26 115.62,773.75 115.62,764.75" fill="#234d78"/>
<polygon points="145.56,760.24 155.54,764.75 155.54,773.75 145.56,778.26 135.58,773.75 135.58,764.75" fill="#377ab9"/>
<polygon points="165.52,760.24 175.50,764.75 175.50,773.75 165.52,778.26 155.54,773.75 155.54,764.75" fill="#3271ab"/>
<polygon points="185.48,760.24 195.46,764.75 195.46,773.75 185.48,778.26 175.50,773.75 175.50,764.75" fill="#3d89cf"/>
<polygon points="205.44,760.24 215.42,764.75 215.42,773.75 205.44,778.26 195.46,773.75 195.46,764.75" fill="#3f8ed6"/>
<polygon points="225.40,760.24 235.38,764.75 235.38,773.75 225.40,778.26 215.42,773.75 215.42,764.75" fill="#2e679d"/>
<polygon points="245.36,760.24 255.34,764.75 255.34,773.75 245.36,778.26 235.38,773.75 235.38,764.75" fill="#3d89cf"/>
<polygon points="265.32,760.24 275.30,764.75 275.30,773.75 265.32,778.26 255.34,773.75 255.34,764.75" fill="#3271ab"/>
<polygon points="285.28,760.24 295.26,764.75 295.26,773.75 285.28,778.26 275.30,773.75 275.30,764.75" fill="#3a82c3"/>
<polygon points="305.24,760.24 315.22,764.75 315.22,773.75 305.24,778.26 295.26,773.75 295.26,764.75" fill="#2e679d"/>
<polygon points="325.20,760.24 335.18,764.75 335.18,773.75 325.20,778.26 315.22,773.75 315.22,764.75" fill="#3271ab"/>
<polygon points="345.16,760.24 355.14,764.75 355.14,773.75 345.16,778.26 335.18,773.75 335.18,764.75" fill="#4397e2"/>
<polygon points="365.12,760.24 375.10,764.75 375.10,773.75 365.12,778.26 355.14,773.75 355.14,764.75" fill="#3271ab"/>
<polygon points="385.08,760.24 395.06,764.75 395.06,773.75 385.08,778.26 375.10,773.75 375.10,764.75" fill="#3d89cf"/>
<polygon points="405.04,760.24 415.02,764.75 415.02,773.75 405.04,778.26 395.06,773.75 395.06,764.75" fill="#3d89cf"/>
<polygon points="425.00,760.24 434.98,764.75 434.98,773.75 425.00,778.26 415.02,773.75 415.02,764.75" fill="#3f8ed6"/>
<polygon points="444.96,760.24 454.94,764.75 454.94,773.75 444.96,778.26 434.98,773.75 434.98,764.75" fill="#2e679d"/>
<polygon points="464.92,760.24 474.90,764.75 474.90,773.75 464.92,778.26 454.94,773.75 454.94,764.75" fill="#3f8ed6"/>
<polygon points="484.88,760.24 494.86,764.75 494.86,773.75 484.88,778.26 474.90,773.75 474.90,764.75" fill="#3f8ed6"/>
<polygon points="504.84,760.24 514.82,764.75 514.82,773.75 504.84,778.26 494.86,773.75 494.86,764.75" fill="#3f8ed6"/>
<polygon points="524.80,760.24 534.78,764.75 534.78,773.75 524.80,778.26 514.82,773.75 514.82,764.75" fill="#377ab9"/>
<polygon points="544.76,760.24 554.74,764.75 554.74,773.75 544.76,778.26 534.78,773.75 534.78,764.75" fill="#377ab9"/>
<polygon points="564.72,760.24 574.70,764.75 574.70,773.75 564.72,778.26 554.74,773.75 554.74,764.75" fill="#3a82c3"/>
<polygon points="584.68,760.24 594.66,764.75 594.66,773.75 584.68,778.26 574.70,773.75 574.70,764.75" fill="#3a82c3"/>
<polygon points="604.64,760.24 614.62,764.75 614.62,773.75 604.64,778.26 594.66,773.75 594.66,764.75" fill="#3271ab"/>
<polygon points="624.60,760.24 634.58,764.75 634.58,773.75 624.60,778.26 614.62,773.75 614.62,764.75" fill="#377ab9"/>
<polygon points="644.56,760.24 654.54,764.75 654.54,773.75 644.56,778.26 634.58,773.75 634.58,764.75" fill="#3a82c3"/>
<polygon points="664.52,760.24 674.50,764.75 674.50,773.75 664.52,778.26 654.54,773.75 654.54,764.75" fill="#3a82c3"/>
<polygon points="684.48,760.24 694.46,764.75 694.46,773.75 684.48,778.26 674.50,773.75 674.50,764.75" fill="#3271ab"/>
<polygon points="704.44,760.24 714.42,764.75 714.42,773.75 704.44,778.26 694.46,773.75 694.46,764.75" fill="#3d89cf"/>
<polygon points="724.40,760.24 734.38,764.75 734.38,773.75 724.40,778.26 714.42,773.75 714.42,764.75" fill="#3d89cf"/>
<polygon points="744.36,760.24 754.34,764.75 754.34,773.75 744.36,778.26 734.38,773.75 734.38,764.75" fill="#377ab9"/>
<polygon points="764.32,760.24 774.30,764.75 774.30,773.75 764.32,778.26 754.34,773.75 754.34,764.75" fill="#3f8ed6"/>
<polygon points="784.28,760.24 794.26,764.75 794.26,773.75 784.28,778.26 774.30,773.75 774.30,764.75" fill="#285a8b"/>
<polygon points="804.24,760.24 814.22,764.75 814.22,773.75 804.24,778.26 794.26,773.75 794.26,764.75" fill="#3271ab"/>
<polygon points="824.20,760.24 834.18,764.75 834.18,773.75 824.20,778.26 814.22,773.75 814.22,764.75" fill="#285a8b"/>
<polygon points="844.16,760.24 854.14,764.75 854.14,773.75 844.16,778.26 834.18,773.75 834.18,764.75" fill="#3a82c3"/>
<polygon points="864.12,760.24 874.10,764.75 874.10,773.75 864.12,778.26 854.14,773.75 854.14,764.75" fill="#377ab9"/>
<polygon points="884.08,760.24 894.06,764.75 894.06,773.75 884.08,778.26 874.10,773.75 874.10,764.75" fill="#3a82c3"/>
<polygon points="904.04,760.24 914.02,764.75 914.02,773.75 904.04,778.26 894.06,773.75 894.06,764.75" fill="#3d89cf"/>
<polygon points="924.00,760.24 933.98,764.75 933.98,773.75 924.00,778.26 914.02,773.75 914.02,764.75" fill="#3d89cf"/>
<polygon points="943.96,760.24 953.94,764.75 953.94,773.75 943.96,778.26 933.98,773.75 933.98,764.75" fill="#3f8ed6"/>
<polygon points="963.92,760.24 973.90,764.75 973.90,773.75 963.92,778.26 953.94,773.75 953.94,764.75" fill="#377ab9"/>
<polygon points="983.88,760.24 993.86,764.75 993.86,773.75 983.88,778.26 973.90,773.75 973.90,764.75" fill="#377ab9"/>
<polygon points="1003.84,760.24 1013.82,764.75 1013.82,773.75 1003.84,778.26 993.86,773.75 993.86,764.75" fill="#2e679d"/>
<polygon points="1023.80,760.24 1033.78,764.75 1033.78,773.75 1023.80,778.26 1013.82,773.75 1013.82,764.75" fill="#377ab9"/>
<polygon points="1043.76,760.24 1053.74,764.75 1053.74,773.75 1043.76,778.26 1033.78,773.75 1033.78,764.75" fill="#3271ab"/>
<polygon points="1063.72,760.24 1073.70,764.75 1073.70,773.75 1063.72,778.26 1053.74,773.75 1053.74,764.75" fill="#3271ab"/>
<polygon points="1083.68,760.24 1093.66,764.75 1093.66,773.75 1083.68,778.26 1073.70,773.75 1073.70,764.75" fill="#2e679d"/>
<polygon points="1103.64,760.24 1113.62,764.75 1113.62,773.75 1103.64,778.26 1093.66,773.75 1093.66,764.75" fill="#377ab9"/>
<polygon points="1123.60,760.24 1133.58,764.75 1133.58,773.75 1123.60,778.26 1113.62,773.75 1113.62,764.75" fill="#2e679d"/>
<polygon points="135.58,746.73 145.56,751.24 145.56,760.24 135.58,764.75 125.60,760.24 125.60,751.24" fill="#377ab9"/>
<polygon points="155.54,746.73 165.52,751.24 165.52,760.24 155.54,764.75 145.56,760.24 145.56,751.24" fill="#3d89cf"/>
<polygon points="175.50,746.73 185.48,751.24 185.48,760.24 175.50,764.75 165.52,760.24 165.52,751.24" fill="#3a82c3"/>
<polygon points="195.46,746.73 205.44,751.24 205.44,760.24 195.46,764.75 185.48,760.24 185.48,751.24" fill="#3a82c3"/>
<polygon points="215.42,746.73 225.40,751.24 225.40,760.24 215.42,764.75 205.44,760.24 205.44,751.24" fill="#2e679d"/>
<polygon points="235.38,746.73 245.36,751.24 245.36,760.24 235.38,764.75 225.40,760.24 225.40,751.24" fill="#4193db"/>
<polygon points="255.34,746.73 265.32,751.24 265.32,760.24 255.34,764.75 245.36,760.24 245.36,751.24" fill="#3d89cf"/>
<polygon points="275.30,746.73 285.28,751.24 285.28,760.24 275.30,764.75 265.32,760.24 265.32,751.24" fill="#3a82c3"/>
<polygon points="295.26,746.73 305.24,751.24 305.24,760.24 295.26,764.75 285.28,760.24 285.28,751.24" fill="#3271ab"/>
<polygon points="315.22,746.73 325.20,751.24 325.20,760.24 315.22,764.75 305.24,760.24 305.24,751.24" fill="#3d89cf"/>
<polygon points="335.18,746.73 345.16,751.24 345.16,760.24 335.18,764.75 325.20,760.24 325.20,751.24" fill="#3a82c3"/>
<polygon points="355.14,746.73 365.12,751.24 365.12,760.24 355.14,764.75 345.16,760.24 345.16,751.24" fill="#285a8b"/>
<polygon points="375.10,746.73 385.08,751.24 385.08,760.24 375.10,764.75 365.12,760.24 365.12,751.24" fill="#3a82c3"/>
<polygon points="395.06,746.73 405.04,751.24 405.04,760.24 395.06,764.75 385.08,760.24 385.08,751.24" fill="#3d89cf"/>
<polygon points="415.02,746.73 425.00,751.24 425.00,760.24 415.02,764.75 405.04,760.24 405.04,751.24" fill="#377ab9"/>
<polygon points="434.98,746.73 444.96,751.24 444.96,760.24 434.98,764.75 425.00,760.24 425.00,751.24" fill="#3d89cf"/>
<polygon points="454.94,746.73 464.92,751.24 464.92,760.24 454.94,764.75 444.96,760.24 444.96,751.24" fill="#3271ab"/>
<polygon points="474.90,746.73 484.88,751.24 484.88,760.24 474.90,764.75 464.92,760.24 464.92,751.24" fill="#3271ab"/>
<polygon points="494.86,746.73 504.84,751.24 504.84,760.24 494.86,764.75 484.88,760.24 484.88,751.24" fill="#3271ab"/>
<polygon points="514.82,746.73 524.80,751.24 524.80,760.24 514.82,764.75 504.84,760.24 504.84,751.24" fill="#3271ab"/>
<polygon points="534.78,746.73 544.76,751.24 544.76,760.24 534.78,764.75 524.80,760.24 524.80,751.24" fill="#3a82c3"/>
<polygon points="554.74,746.73 564.72,751.24 564.72,760.24 554.74,764.75 544.76,760.24 544.76,751.24" fill="#377ab9"/>
<polygon points="574.70,746.73 584.68,751.24 584.68,760.24 574.70,764.75 564.72,760.24 564.72,751.24" fill="#285a8b"/>
<polygon points="594.66,746.73 604.64,751.24 604.64,760.24 594.66,764.75 584.68,760.24 584.68,751.24" fill="#377ab9"/>
<polygon points="614.62,746.73 624.60,751.24 624.60,760.24 614.62,764.75 604.64,760.24 604.64,751.24" fill="#377ab9"/>
<polygon points="634.58,746.73 644.56,751.24 644.56,760.24 634.58,764.75 624.60,760.24 624.60,751.24" fill="#377ab9"/>
<polygon points="654.54,746.73 664.52,751.24 664.52,760.24 654.54,764.75 644.56,760.24 644.56,751.24" fill="#377ab9"/>
<polygon points="674.50,746.73 684.48,751.24 684.48,760.24 674.50,764.75 664.52,760.24 664.52,751.24" fill="#3271ab"/>
<polygon points="694.46,746.73 704.44,751.24 704.44,760.24 694.46,764.75 684.48,760.24 684.48,751.24" fill="#285a8b"/>
<polygon points="714.42,746.73 724.40,751.24 724.40,760.24 714.42,764.75 704.44,760.24 704.44,751.24" fill="#377ab9"/>
<polygon points="734.38,746.73 744.36,751.24 744.36,760.24 734.38,764.75 724.40,760.24 724.40,751.24" fill="#377ab9"/>
<polygon points="754.34,746.73 764.32,751.24 764.32,760.24 754.34,764.75 744.36,760.24 744.36,751.24" fill="#3d89cf"/>
<polygon points="774.30,746.73 784.28,751.24 784.28,760.24 774.30,764.75 764.32,760.24 764.32,751.24" fill="#285a8b"/>
<polygon points="794.26,746.73 804.24,751.24 804.24,760.24 794.26,764.75 784.28,760.24 784.28,751.24" fill="#3a82c3"/>
<polygon points="814.22,746.73 824.20,751.24 824.20,760.24 814.22,764.75 804.24,760.24 804.24,751.24" fill="#285a8b"/>
<polygon points="834.18,746.73 844.16,751.24 844.16,760.24 834.18,764.75 824.20,760.24 824.20,751.24" fill="#3271ab"/>
<polygon points="854.14,746.73 864.12,751.24 864.12,760.24 854.14,764.75 844.16,760.24 844.16,751.24" fill="#3271ab"/>
<polygon points="874.10,746.73 884.08,751.24 884.08,760.24 874.10,764.75 864.12,760.24 864.12,751.24" fill="#3a82c3"/>
<polygon points="894.06,746.73 904.04,751.24 904.04,760.24 894.06,764.75 884.08,760.24 884.08,751.24" fill="#285a8b"/>
<polygon points="914.02,746.73 924.00,751.24 924.00,760.24 914.02,764.75 904.04,760.24 904.04,751.24" fill="#2e679d"/>
<polygon points="933.98,746.73 943.96,751.24 943.96,760.24 933.98,764.75 924.00,760.24 924.00,751.24" fill="#2e679d"/>
<polygon points="953.94,746.73 963.92,751.24 963.92,760.24 953.94,764.75 943.96,760.24 943.96,751.24" fill="#2e679d"/>
<polygon points="973.90,746.73 983.88,751.24 983.88,760.24 973.90,764.75 963.92,760.24 963.92,751.24" fill="#285a8b"/>
<polygon points="993.86,746.73 1003.84,751.24 1003.84,760.24 993.86,764.75 983.88,760.24 983.88,751.24" fill="#377ab9"/>
<polygon points="1013.82,746.73 1023.80,751.24 1023.80,760.24 1013.82,764.75 1003.84,760.24 1003.84,751.24" fill="#3271ab"/>
<polygon points="1033.78,746.73 1043.76,751.24 1043.76,760.24 1033.78,764.75 1023.80,760.24 1023.80,751.24" fill="#3271ab"/>
<polygon points="1053.74,746.73 1063.72,751.24 1063.72,760.24 1053.74,764.75 1043.76,760.24 1043.76,751.24" fill="#4193db"/>
<polygon points="1073.70,746.73 1083.68,751.24 1083.68,760.24 1073.70,764.75 1063.72,760.24 1063.72,751.24" fill="#2e679d"/>
<polygon points="1093.66,746.73 1103.64,751.24 1103.64,760.24 1093.66,764.75 1083.68,760.24 1083.68,751.24" fill="#285a8b"/>
<polygon points="1113.62,746.73 1123.60,751.24 1123.60,760.24 1113.62,764.75 1103.64,760.24 1103.64,751.24" fill="#3271ab"/>
<polygon points="125.60,733.22 135.58,737.73 135.58,746.73 125.60,751.24 115.62,746.73 115.62,737.73" fill="#16314f"/>
<polygon points="145.56,733.22 155.54,737.73 155.54,746.73 145.56,751.24 135.58,746.73 135.58,737.73" fill="#285a8b"/>
<polygon points="165.52,733.22 175.50,737.73 175.50,746.73 165.52,751.24 155.54,746.73 155.54,737.73" fill="#377ab9"/>
<polygon points="185.48,733.22 195.46,737.73 195.46,746.73 185.48,751.24 175.50,746.73 175.50,737.73" fill="#3a82c3"/>
<polygon points="205.44,733.22 215.42,737.73 215.42,746.73 205.44,751.24 195.46,746.73 195.46,737.73" fill="#377ab9"/>
<polygon points="225.40,733.22 235.38,737.73 235.38,746.73 225.40,751.24 215.42,746.73 215.42,737.73" fill="#3271ab"/>
<polygon points="245.36,733.22 255.34,737.73 255.34,746.73 245.36,751.24 235.38,746.73 235.38,737.73" fill="#285a8b"/>
<polygon points="265.32,733.22 275.30,737.73 275.30,746.73 265.32,751.24 255.34,746.73 255.34,737.73" fill="#377ab9"/>
<polygon points="285.28,733.22 295.26,737.73 295.26,746.73 285.28,751.24 275.30,746.73 275.30,737.73" fill="#3271ab"/>
<polygon points="305.24,733.22 315.22,737.73 315.22,746.73 305.24,751.24 295.26,746.73 295.26,737.73" fill="#377ab9"/>
<polygon points="325.20,733.22 335.18,737.73 335.18,746.73 325.20,751.24 315.22,746.73 315.22,737.73" fill="#377ab9"/>
<polygon points="345.16,733.22 355.14,737.73 355.14,746.73 345.16,751.24 335.18,746.73 335.18,737.73" fill="#377ab9"/>
<polygon points="365.12,733.22 375.10,737.73 375.10,746.73 365.12,751.24 355.14,746.73 355.14,737.73" fill="#3271ab"/>
<polygon points="385.08,733.22 395.06,737.73 395.06,746.73 385.08,751.24 375.10,746.73 375.10,737.73" fill="#2e679d"/>
<polygon points="405.04,733.22 415.02,737.73 415.02,746.73 405.04,751.24 395.06,746.73 395.06,737.73" fill="#2e679d"/>
<polygon points="425.00,733.22 434.98,737.73 434.98,746.73 425.00,751.24 415.02,746.73 415.02,737.73" fill="#3271ab"/>
<polygon points="444.96,733.22 454.94,737.73 454.94,746.73 444.96,751.24 434.98,746.73 434.98,737.73" fill="#3271ab"/>
<polygon points="464.92,733.22 474.90,737.73 474.90,746.73 464.92,751.24 454.94,746.73 454.94,737.73" fill="#377ab9"/>
<polygon points="484.88,733.22 494.86,737.73 494.86,746.73 484.88,751.24 474.90,746.73 474.90,737.73" fill="#1d4065"/>
<polygon points="504.84,733.22 514.82,737.73 514.82,746.73 504.84,751.24 494.86,746.73 494.86,737.73" fill="#234d78"/>
<polygon points="524.80,733.22 534.78,737.73 534.78,746.73 524.80,751.24 514.82,746.73 514.82,737.73" fill="#1d4065"/>
<polygon points="544.76,733.22 554.74,737.73 554.74,746.73 544.76,751.24 534.78,746.73 534.78,737.73" fill="#377ab9"/>
<polygon points="564.72,733.22 574.70,737.73 574.70,746.73 564.72,751.24 554.74,746.73 554.74,737.73" fill="#377ab9"/>
<polygon points="584.68,733.22 594.66,737.73 594.66,746.73 584.68,751.24 574.70,746.73 574.70,737.73" fill="#377ab9"/>
<polygon points="604.64,733.22 614.62,737.73 614.62,746.73 604.64,751.24 594.66,746.73 594.66,737.73" fill="#3a82c3"/>
<polygon points="624.60,733.22 634.58,737.73 634.58,746.73 624.60,751.24 614.62,746.73 614.62,737.73" fill="#3a82c3"/>
<polygon points="644.56,733.22 654.54,737.73 654.54,746.73 644.56,751.24 634.58,746.73 634.58,737.73" fill="#377ab9"/>
<polygon points="664.52,733.22 674.50,737.73 674.50,746.73 664.52,751.24 654.54,746.73 654.54,737.73" fill="#3271ab"/>
<polygon points="684.48,733.22 694.46,737.73 694.46,746.73 684.48,751.24 674.50,746.73 674.50,737.73" fill="#377ab9"/>
<polygon points="704.44,733.22 714.42,737.73 714.42,746.73 704.44,751.24 694.46,746.73 694.46,737.73" fill="#3271ab"/>
<polygon points="724.40,733.22 734.38,737.73 734.38,746.73 724.40,751.24 714.42,746.73 714.42,737.73" fill="#3a82c3"/>
<polygon points="744.36,733.22 754.34,737.73 754.34,746.73 744.36,751.24 734.38,746.73 734.38,737.73" fill="#285a8b"/>
<polygon points="764.32,733.22 774.30,737.73 774.30,746.73 764.32,751.24 754.34,746.73 754.34,737.73" fill="#1d4065"/>
<polygon points="784.28,733.22 794.26,737.73 794.26,746.73 784.28,751.24 774.30,746.73 774.30,737.73" fill="#2e679d"/>
<polygon points="804.24,733.22 814.22,737.73 814.22,746.73 804.24,751.24 794.26,746.73 794.26,737.73" fill="#3271ab"/>
<polygon points="824.20,733.22 834.18,737.73 834.18,746.73 824.20,751.24 814.22,746.73 814.22,737.73" fill="#377ab9"/>
<polygon points="844.16,733.22 854.14,737.73 854.14,746.73 844.16,751.24 834.18,746.73 834.18,737.73" fill="#2e679d"/>
<polygon points="864.12,733.22 874.10,737.73 874.10,746.73 864.12,751.24 854.14,746.73 854.14,737.73" fill="#234d78"/>
<polygon points="884.08,733.22 894.06,737.73 894.06,746.73 884.08,751.24 874.10,746.73 874.10,737.73" fill="#3271ab"/>
<polygon points="904.04,733.22 914.02,737.73 914.02,746.73 904.04,751.24 894.06,746.73 894.06,737.73" fill="#2e679d"/>
<polygon points="924.00,733.22 933.98,737.73 933.98,746.73 924.00,751.24 914.02,746.73 914.02,737.73" fill="#2e679d"/>
<polygon points="943.96,733.22 953.94,737.73 953.94,746.73 943.96,751.24 933.98,746.73 933.98,737.73" fill="#3271ab"/>
<polygon points="963.92,733.22 973.90,737.73 973.90,746.73 963.92,751.24 953.94,746.73 953.94,737.73" fill="#2e679d"/>
<polygon points="983.88,733.22 993.86,737.73 993.86,746.73 983.88,751.24 973.90,746.73 973.90,737.73" fill="#2e679d"/>
<polygon points="1003.84,733.22 1013.82,737.73 1013.82,746.73 1003.84,751.24 993.86,746.73 993.86,737.73" fill="#2e679d"/>
<polygon points="1023.80,733.22 1033.78,737.73 1033.78,746.73 1023.80,751.24 1013.82,746.73 1013.82,737.73" fill="#234d78"/>
<polygon points="1043.76,733.22 1053.74,737.73 1053.74,746.73 1043.76,751.24 1033.78,746.73 1033.78,737.73" fill="#377ab9"/>
<polygon points="1063.72,733.22 1073.70,737.73 1073.70,746.73 1063.72,751.24 1053.74,746.73 1053.74,737.73" fill="#285a8b"/>
<polygon points="1083.68,733.22 1093.66,737.73 1093.66,746.73 1083.68,751.24 1073.70,746.73 1073.70,737.73" fill="#234d78"/>
<polygon points="1103.64,733.22 1113.62,737.73 1113.62,746.73 1103.64,751.24 1093.66,746.73 1093.66,737.73" fill="#16314f"/>
<polygon points="1123.60,733.22 1133.58,737.73 1133.58,746.73 1123.60,751.24 1113.62,746.73 1113.62,737.73" fill="#0d1e33"/>
<polygon points="135.58,719.71 145.56,724.22 145.56,733.22 135.58,737.73 125.60,733.22 125.60,724.22" fill="#1d4065"/>
<polygon points="155.54,719.71 165.52,724.22 165.52,733.22 155.54,737.73 145.56,733.22 145.56,724.22" fill="#16314f"/>
<polygon points="175.50,719.71 185.48,724.22 185.48,733.22 175.50,737.73 165.52,733.22 165.52,724.22" fill="#2e679d"/>
<polygon points="195.46,719.71 205.44,724.22 205.44,733.22 195.46,737.73 185.48,733.22 185.48,724.22" fill="#234d78"/>
<polygon points="215.42,719.71 225.40,724.22 225.40,733.22 215.42,737.73 205.44,733.22 205.44,724.22" fill="#2e679d"/>
<polygon points="235.38,719.71 245.36,724.22 245.36,733.22 235.38,737.73 225.40,733.22 225.40,724.22" fill="#234d78"/>
<polygon points="255.34,719.71 265.32,724.22 265.32,733.22 255.34,737.73 245.36,733.22 245.36,724.22" fill="#377ab9"/>
<polygon points="275.30,719.71 285.28,724.22 285.28,733.22 275.30,737.73 265.32,733.22 265.32,724.22" fill="#285a8b"/>
<polygon points="295.26,719.71 305.24,724.22 305.24,733.22 295.26,737.73 285.28,733.22 285.28,724.22" fill="#3a82c3"/>
<polygon points="315.22,719.71 325.20,724.22 325.20,733.22 315.22,737.73 305.24,733.22 305.24,724.22" fill="#285a8b"/>
<polygon points="335.18,719.71 345.16,724.22 345.16,733.22 335.18,737.73 325.20,733.22 325.20,724.22" fill="#2e679d"/>
<polygon points="355.14,719.71 365.12,724.22 365.12,733.22 355.14,737.73 345.16,733.22 345.16,724.22" fill="#377ab9"/>
<polygon points="375.10,719.71 385.08,724.22 385.08,733.22 375.10,737.73 365.12,733.22 365.12,724.22" fill="#3271ab"/>
<polygon points="395.06,719.71 405.04,724.22 405.04,733.22 395.06,737.73 385.08,733.22 385.08,724.22" fill="#285a8b"/>
<polygon points="415.02,719.71 425.00,724.22 425.00,733.22 415.02,737.73 405.04,733.22 405.04,724.22" fill="#234d78"/>
<polygon points="434.98,719.71 444.96,724.22 444.96,733.22 434.98,737.73 425.00,733.22 425.00,724.22" fill="#16314f"/>
<polygon points="454.94,719.71 464.92,724.22 464.92,733.22 454.94,737.73 444.96,733.22 444.96,724.22" fill="#3271ab"/>
<polygon points="474.90,719.71 484.88,724.22 484.88,733.22 474.90,737.73 464.92,733.22 464.92,724.22" fill="#2e679d"/>
<polygon points="494.86,719.71 504.84,724.22 504.84,733.22 494.86,737.73 484.88,733.22 484.88,724.22" fill="#2e679d"/>
<polygon points="514.82,719.71 524.80,724.22 524.80,733.22 514.82,737.73 504.84,733.22 504.84,724.22" fill="#377ab9"/>
<polygon points="534.78,719.71 544.76,724.22 544.76,733.22 534.78,737.73 524.80,733.22 524.80,724.22" fill="#3271ab"/>
<polygon points="554.74,719.71 564.72,724.22 564.72,733.22 554.74,737.73 544.76,733.22 544.76,724.22" fill="#1d4065"/>
<polygon points="574.70,719.71 584.68,724.22 584.68,733.22 574.70,737.73 564.72,733.22 564.72,724.22" fill="#3271ab"/>
<polygon points="594.66,719.71 604.64,724.22 604.64,733.22 594.66,737.73 584.68,733.22 584.68,724.22" fill="#1d4065"/>
<polygon points="614.62,719.71 624.60,724.22 624.60,733.22 614.62,737.73 604.64,733.22 604.64,724.22" fill="#2e679d"/>
<polygon points="634.58,719.71 644.56,724.22 644.56,733.22 634.58,737.73 624.60,733.22 624.60,724.22" fill="#285a8b"/>
<polygon points="654.54,719.71 664.52,724.22 664.52,733.22 654.54,737.73 644.56,733.22 644.56,724.22" fill="#2e679d"/>
<polygon points="674.50,719.71 684.48,724.22 684.48,733.22 674.50,737.73 664.52,733.22 664.52,724.22" fill="#2e679d"/>
<polygon points="694.46,719.71 704.44,724.22 704.44,733.22 694.46,737.73 684.48,733.22 684.48,724.22" fill="#2e679d"/>
<polygon points="714.42,719.71 724.40,724.22 724.40,733.22 714.42,737.73 704.44,733.22 704.44,724.22" fill="#285a8b"/>
<polygon points="734.38,719.71 744.36,724.22 744.36,733.22 734.38,737.73 724.40,733.22 724.40,724.22" fill="#2e679d"/>
<polygon points="754.34,719.71 764.32,724.22 764.32,733.22 754.34,737.73 744.36,733.22 744.36,724.22" fill="#2e679d"/>
<polygon points="774.30,719.71 784.28,724.22 784.28,733.22 774.30,737.73 764.32,733.22 764.32,724.22" fill="#285a8b"/>
<polygon points="794.26,719.71 804.24,724.22 804.24,733.22 794.26,737.73 784.28,733.22 784.28,724.22" fill="#2e679d"/>
<polygon points="814.22,719.71 824.20,724.22 824.20,733.22 814.22,737.73 804.24,733.22 804.24,724.22" fill="#3271ab"/>
<polygon points="834.18,719.71 844.16,724.22 844.16,733.22 834.18,737.73 824.20,733.22 824.20,724.22" fill="#377ab9"/>
<polygon points="854.14,719.71 864.12,724.22 864.12,733.22 854.14,737.73 844.16,733.22 844.16,724.22" fill="#1d4065"/>
<polygon points="874.10,719.71 884.08,724.22 884.08,733.22 874.10,737.73 864.12,733.22 864.12,724.22" fill="#234d78"/>
<polygon points="894.06,719.71 904.04,724.22 904.04,733.22 894.06,737.73 884.08,733.22 884.08,724.22" fill="#234d78"/>
<polygon points="914.02,719.71 924.00,724.22 924.00,733.22 914.02,737.73 904.04,733.22 904.04,724.22" fill="#2e679d"/>
<polygon points="933.98,719.71 943.96,724.22 943.96,733.22 933.98,737.73 924.00,733.22 924.00,724.22" fill="#3271ab"/>
<polygon points="953.94,719.71 963.92,724.22 963.92,733.22 953.94,737.73 943.96,733.22 943.96,724.22" fill="#285a8b"/>
<polygon points="973.90,719.71 983.88,724.22 983.88,733.22 973.90,737.73 963.92,733.22 963.92,724.22" fill="#285a8b"/>
<polygon points="993.86,719.71 1003.84,724.22 1003.84,733.22 993.86,737.73 983.88,733.22 983.88,724.22" fill="#285a8b"/>
<polygon points="1013.82,719.71 1023.80,724.22 1023.80,733.22 1013.82,737.73 1003.84,733.22 1003.84,724.22" fill="#2e679d"/>
<polygon points="1033.78,719.71 1043.76,724.22 1043.76,733.22 1033.78,737.73 1023.80,733.22 1023.80,724.22" fill="#2e679d"/>
<polygon points="1053.74,719.71 1063.72,724.22 1063.72,733.22 1053.74,737.73 1043.76,733.22 1043.76,724.22" fill="#285a8b"/>
<polygon points="1073.70,719.71 1083.68,724.22 1083.68,733.22 1073.70,737.73 1063.72,733.22 1063.72,724.22" fill="#3a82c3"/>
<polygon points="1093.66,719.71 1103.64,724.22 1103.64,733.22 1093.66,737.73 1083.68,733.22 1083.68,724.22" fill="#3271ab"/>
<polygon points="1113.62,719.71 1123.60,724.22 1123.60,733.22 1113.62,737.73 1103.64,733.22 1103.64,724.22" fill="#285a8b"/>
<polygon points="1133.58,719.71 1143.56,724.22 1143.56,733.22 1133.58,737.73 1123.60,733.22 1123.60,724.22" fill="#0d1e33"/>
<polygon points="125.60,706.20 135.58,710.71 135.58,719.71 125.60,724.22 115.62,719.71 115.62,710.71" fill="#1d4065"/>
<polygon points="145.56,706.20 155.54,710.71 155.54,719.71 145.56,724.22 135.58,719.71 135.58,710.71" fill="#285a8b"/>
<polygon points="165.52,706.20 175.50,710.71 175.50,719.71 165.52,724.22 155.54,719.71 155.54,710.71" fill="#285a8b"/>
<polygon points="185.48,706.20 195.46,710.71 195.46,719.71 185.48,724.22 175.50,719.71 175.50,710.71" fill="#0d1e33"/>
<polygon points="205.44,706.20 215.42,710.71 215.42,719.71 205.44,724.22 195.46,719.71 195.46,710.71" fill="#1d4065"/>
<polygon points="225.40,706.20 235.38,710.71 235.38,719.71 225.40,724.22 215.42,719.71 215.42,710.71" fill="#3271ab"/>
<polygon points="245.36,706.20 255.34,710.71 255.34,719.71 245.36,724.22 235.38,719.71 235.38,710.71" fill="#234d78"/>
<polygon points="265.32,706.20 275.30,710.71 275.30,719.71 265.32,724.22 255.34,719.71 255.34,710.71" fill="#3271ab"/>
<polygon points="285.28,706.20 295.26,710.71 295.26,719.71 285.28,724.22 275.30,719.71 275.30,710.71" fill="#3271ab"/>
<polygon points="305.24,706.20 315.22,710.71 315.22,719.71 305.24,724.22 295.26,719.71 295.26,710.71" fill="#285a8b"/>
<polygon points="325.20,706.20 335.18,710.71 335.18,719.71 325.20,724.22 315.22,719.71 315.22,710.71" fill="#0d1e33"/>
<polygon points="345.16,706.20 355.14,710.71 355.14,719.71 345.16,724.22 335.18,719.71 335.18,710.71" fill="#0d1e33"/>
<polygon points="365.12,706.20 375.10,710.71 375.10,719.71 365.12,724.22 355.14,719.71 355.14,710.71" fill="#3271ab"/>
<polygon points="405.04,706.20 415.02,710.71 415.02,719.71 405.04,724.22 395.06,719.71 395.06,710.71" fill="#285a8b"/>
<polygon points="425.00,706.20 434.98,710.71 434.98,719.71 425.00,724.22 415.02,719.71 415.02,710.71" fill="#285a8b"/>
<polygon points="444.96,706.20 454.94,710.71 454.94,719.71 444.96,724.22 434.98,719.71 434.98,710.71" fill="#0d1e33"/>
<polygon points="464.92,706.20 474.90,710.71 474.90,719.71 464.92,724.22 454.94,719.71 454.94,710.71" fill="#285a8b"/>
<polygon points="484.88,706.20 494.86,710.71 494.86,719.71 484.88,724.22 474.90,719.71 474.90,710.71" fill="#234d78"/>
<polygon points="504.84,706.20 514.82,710.71 514.82,719.71 504.84,724.22 494.86,719.71 494.86,710.71" fill="#285a8b"/>
<polygon points="524.80,706.20 534.78,710.71 534.78,719.71 524.80,724.22 514.82,719.71 514.82,710.71" fill="#234d78"/>
<polygon points="544.76,706.20 554.74,710.71 554.74,719.71 544.76,724.22 534.78,719.71 534.78,710.71" fill="#3271ab"/>
<polygon points="564.72,706.20 574.70,710.71 574.70,719.71 564.72,724.22 554.74,719.71 554.74,710.71" fill="#2e679d"/>
<polygon points="584.68,706.20 594.66,710.71 594.66,719.71 584.68,724.22 574.70,719.71 574.70,710.71" fill="#0d1e33"/>
<polygon points="604.64,706.20 614.62,710.71 614.62,719.71 604.64,724.22 594.66,719.71 594.66,710.71" fill="#234d78"/>
<polygon points="624.60,706.20 634.58,710.71 634.58,719.71 624.60,724.22 614.62,719.71 614.62,710.71" fill="#1d4065"/>
<polygon points="644.56,706.20 654.54,710.71 654.54,719.71 644.56,724.22 634.58,719.71 634.58,710.71" fill="#2e679d"/>
<polygon points="664.52,706.20 674.50,710.71 674.50,719.71 664.52,724.22 654.54,719.71 654.54,710.71" fill="#285a8b"/>
<polygon points="704.44,706.20 714.42,710.71 714.42,719.71 704.44,724.22 694.46,719.71 694.46,710.71" fill="#285a8b"/>
<polygon points="724.40,706.20 734.38,710.71 734.38,719.71 724.40,724.22 714.42,719.71 714.42,710.71" fill="#16314f"/>
<polygon points="744.36,706.20 754.34,710.71 754.34,719.71 744.36,724.22 734.38,719.71 734.38,710.71" fill="#285a8b"/>
<polygon points="764.32,706.20 774.30,710.71 774.30,719.71 764.32,724.22 754.34,719.71 754.34,710.71" fill="#234d78"/>
<polygon points="784.28,706.20 794.26,710.71 794.26,719.71 784.28,724.22 774.30,719.71 774.30,710.71" fill="#2e679d"/>
<polygon points="804.24,706.20 814.22,710.71 814.22,719.71 804.24,724.22 794.26,719.71 794.26,710.71" fill="#285a8b"/>
<polygon points="824.20,706.20 834.18,710.71 834.18,719.71 824.20,724.22 814.22,719.71 814.22,710.71" fill="#234d78"/>
<polygon points="844.16,706.20 854.14,710.71 854.14,719.71 844.16,724.22 834.18,719.71 834.18,710.71" fill="#16314f"/>
<polygon points="864.12,706.20 874.10,710.71 874.10,719.71 864.12,724.22 854.14,719.71 854.14,710.71" fill="#285a8b"/>
<polygon points="884.08,706.20 894.06,710.71 894.06,719.71 884.08,724.22 874.10,719.71 874.10,710.71" fill="#285a8b"/>
<polygon points="904.04,706.20 914.02,710.71 914.02,719.71 904.04,724.22 894.06,719.71 894.06,710.71" fill="#285a8b"/>
<polygon points="924.00,706.20 933.98,710.71 933.98,719.71 924.00,724.22 914.02,719.71 914.02,710.71" fill="#285a8b"/>
<polygon points="943.96,706.20 953.94,710.71 953.94,719.71 943.96,724.22 933.98,719.71 933.98,710.71" fill="#1d4065"/>
<polygon points="963.92,706.20 973.90,710.71 973.90,719.71 963.92,724.22 953.94,719.71 953.94,710.71" fill="#234d78"/>
<polygon points="983.88,706.20 993.86,710.71 993.86,719.71 983.88,724.22 973.90,719.71 973.90,710.71" fill="#234d78"/>
<polygon points="1003.84,706.20 1013.82,710.71 1013.82,719.71 1003.84,724.22 993.86,719.71 993.86,710.71" fill="#234d78"/>
<polygon points="1023.80,706.20 1033.78,710.71 1033.78,719.71 1023.80,724.22 1013.82,719.71 1013.82,710.71" fill="#0d1e33"/>
<polygon points="1043.76,706.20 1053.74,710.71 1053.74,719.71 1043.76,724.22 1033.78,719.71 1033.78,710.71" fill="#1d4065"/>
<polygon points="1063.72,706.20 1073.70,710.71 1073.70,719.71 1063.72,724.22 1053.74,719.71 1053.74,710.71" fill="#1d4065"/>
<polygon points="1083.68,706.20 1093.66,710.71 1093.66,719.71 1083.68,724.22 1073.70,719.71 1073.70,710.71" fill="#2e679d"/>
<polygon points="1103.64,706.20 1113.62,710.71 1113.62,719.71 1103.64,724.22 1093.66,719.71 1093.66,710.71" fill="#285a8b"/>
<polygon points="1123.60,706.20 1133.58,710.71 1133.58,719.71 1123.60,724.22 1113.62,719.71 1113.62,710.71" fill="#0d1e33"/>
<polygon points="135.58,692.69 145.56,697.20 145.56,706.20 135.58,710.71 125.60,706.20 125.60,697.20" fill="#234d78"/>
<polygon points="155.54,692.69 165.52,697.20 165.52,706.20 155.54,710.71 145.56,706.20 145.56,697.20" fill="#285a8b"/>
<polygon points="175.50,692.69 185.48,697.20 185.48,706.20 175.50,710.71 165.52,706.20 165.52,697.20" fill="#0d1e33"/>
<polygon points="195.46,692.69 205.44,697.20 205.44,706.20 195.46,710.71 185.48,706.20 185.48,697.20" fill="#1d4065"/>
<polygon points="215.42,692.69 225.40,697.20 225.40,706.20 215.42,710.71 205.44,706.20 205.44,697.20" fill="#285a8b"/>
<polygon points="235.38,692.69 245.36,697.20 245.36,706.20 235.38,710.71 225.40,706.20 225.40,697.20" fill="#2e679d"/>
<polygon points="255.34,692.69 265.32,697.20 265.32,706.20 255.34,710.71 245.36,706.20 245.36,697.20" fill="#285a8b"/>
<polygon points="275.30,692.69 285.28,697.20 285.28,706.20 275.30,710.71 265.32,706.20 265.32,697.20" fill="#234d78"/>
<polygon points="295.26,692.69 305.24,697.20 305.24,706.20 295.26,710.71 285.28,706.20 285.28,697.20" fill="#16314f"/>
<polygon points="315.22,692.69 325.20,697.20 325.20,706.20 315.22,710.71 305.24,706.20 305.24,697.20" fill="#16314f"/>
<polygon points="335.18,692.69 345.16,697.20 345.16,706.20 335.18,710.71 325.20,706.20 325.20,697.20" fill="#1d4065"/>
<polygon points="355.14,692.69 365.12,697.20 365.12,706.20 355.14,710.71 345.16,706.20 345.16,697.20" fill="#234d78"/>
<polygon points="375.10,692.69 385.08,697.20 385.08,706.20 375.10,710.71 365.12,706.20 365.12,697.20" fill="#3271ab"/>
<polygon points="415.02,692.69 425.00,697.20 425.00,706.20 415.02,710.71 405.04,706.20 405.04,697.20" fill="#0d1e33"/>
<polygon points="434.98,692.69 444.96,697.20 444.96,706.20 434.98,710.71 425.00,706.20 425.00,697.20" fill="#0d1e33"/>
<polygon points="454.94,692.69 464.92,697.20 464.92,706.20 454.94,710.71 444.96,706.20 444.96,697.20" fill="#285a8b"/>
<polygon points="474.90,692.69 484.88,697.20 484.88,706.20 474.90,710.71 464.92,706.20 464.92,697.20" fill="#0d1e33"/>
<polygon points="494.86,692.69 504.84,697.20 504.84,706.20 494.86,710.71 484.88,706.20 484.88,697.20" fill="#234d78"/>
<polygon points="514.82,692.69 524.80,697.20 524.80,706.20 514.82,710.71 504.84,706.20 504.84,697.20" fill="#234d78"/>
<polygon points="534.78,692.69 544.76,697.20 544.76,706.20 534.78,710.71 524.80,706.20 524.80,697.20" fill="#0d1e33"/>
<polygon points="554.74,692.69 564.72,697.20 564.72,706.20 554.74,710.71 544.76,706.20 544.76,697.20" fill="#234d78"/>
<polygon points="574.70,692.69 584.68,697.20 584.68,706.20 574.70,710.71 564.72,706.20 564.72,697.20" fill="#234d78"/>
<polygon points="594.66,692.69 604.64,697.20 604.64,706.20 594.66,710.71 584.68,706.20 584.68,697.20" fill="#234d78"/>
<polygon points="614.62,692.69 624.60,697.20 624.60,706.20 614.62,710.71 604.64,706.20 604.64,697.20" fill="#285a8b"/>
<polygon points="634.58,692.69 644.56,697.20 644.56,706.20 634.58,710.71 624.60,706.20 624.60,697.20" fill="#0d1e33"/>
<polygon points="654.54,692.69 664.52,697.20 664.52,706.20 654.54,710.71 644.56,706.20 644.56,697.20" fill="#234d78"/>
<polygon points="674.50,692.69 684.48,697.20 684.48,706.20 674.50,710.71 664.52,706.20 664.52,697.20" fill="#16314f"/>
<polygon points="694.46,692.69 704.44,697.20 704.44,706.20 694.46,710.71 684.48,706.20 684.48,697.20" fill="#16314f"/>
<polygon points="714.42,692.69 724.40,697.20 724.40,706.20 714.42,710.71 704.44,706.20 704.44,697.20" fill="#1d4065"/>
<polygon points="754.34,692.69 764.32,697.20 764.32,706.20 754.34,710.71 744.36,706.20 744.36,697.20" fill="#16314f"/>
<polygon points="774.30,692.69 784.28,697.20 784.28,706.20 774.30,710.71 764.32,706.20 764.32,697.20" fill="#285a8b"/>
<polygon points="794.26,692.69 804.24,697.20 804.24,706.20 794.26,710.71 784.28,706.20 784.28,697.20" fill="#0d1e33"/>
<polygon points="814.22,692.69 824.20,697.20 824.20,706.20 814.22,710.71 804.24,706.20 804.24,697.20" fill="#0d1e33"/>
<polygon points="834.18,692.69 844.16,697.20 844.16,706.20 834.18,710.71 824.20,706.20 824.20,697.20" fill="#234d78"/>
<polygon points="854.14,692.69 864.12,697.20 864.12,706.20 854.14,710.71 844.16,706.20 844.16,697.20" fill="#234d78"/>
<polygon points="874.10,692.69 884.08,697.20 884.08,706.20 874.10,710.71 864.12,706.20 864.12,697.20" fill="#285a8b"/>
<polygon points="894.06,692.69 904.04,697.20 904.04,706.20 894.06,710.71 884.08,706.20 884.08,697.20" fill="#285a8b"/>
<polygon points="914.02,692.69 924.00,697.20 924.00,706.20 914.02,710.71 904.04,706.20 904.04,697.20" fill="#1d4065"/>
<polygon points="933.98,692.69 943.96,697.20 943.96,706.20 933.98,710.71 924.00,706.20 924.00,697.20" fill="#2e679d"/>
<polygon points="953.94,692.69 963.92,697.20 963.92,706.20 953.94,710.71 943.96,706.20 943.96,697.20" fill="#234d78"/>
<polygon points="973.90,692.69 983.88,697.20 983.88,706.20 973.90,710.71 963.92,706.20 963.92,697.20" fill="#234d78"/>
<polygon points="993.86,692.69 1003.84,697.20 1003.84,706.20 993.86,710.71 983.88,706.20 983.88,697.20" fill="#285a8b"/>
<polygon points="1013.82,692.69 1023.80,697.20 1023.80,706.20 1013.82,710.71 1003.84,706.20 1003.84,697.20" fill="#285a8b"/>
<polygon points="1033.78,692.69 1043.76,697.20 1043.76,706.20 1033.78,710.71 1023.80,706.20 1023.80,697.20" fill="#234d78"/>
<polygon points="1053.74,692.69 1063.72,697.20 1063.72,706.20 1053.74,710.71 1043.76,706.20 1043.76,697.20" fill="#234d78"/>
<polygon points="1073.70,692.69 1083.68,697.20 1083.68,706.20 1073.70,710.71 1063.72,706.20 1063.72,697.20" fill="#2e679d"/>
<polygon points="1093.66,692.69 1103.64,697.20 1103.64,706.20 1093.66,710.71 1083.68,706.20 1083.68,697.20" fill="#285a8b"/>
<polygon points="1113.62,692.69 1123.60,697.20 1123.60,706.20 1113.62,710.71 1103.64,706.20 1103.64,697.20" fill="#285a8b"/>
<polygon points="165.52,679.18 175.50,683.69 175.50,692.69 165.52,697.20 155.54,692.69 155.54,683.69" fill="#1d4065"/>
<polygon points="185.48,679.18 195.46,683.69 195.46,692.69 185.48,697.20 175.50,692.69 175.50,683.69" fill="#1d4065"/>
<polygon points="205.44,679.18 215.42,683.69 215.42,692.69 205.44,697.20 195.46,692.69 195.46,683.69" fill="#234d78"/>
<polygon points="245.36,679.18 255.34,683.69 255.34,692.69 245.36,697.20 235.38,692.69 235.38,683.69" fill="#16314f"/>
<polygon points="265.32,679.18 275.30,683.69 275.30,692.69 265.32,697.20 255.34,692.69 255.34,683.69" fill="#16314f"/>
<polygon points="305.24,679.18 315.22,683.69 315.22,692.69 305.24,697.20 295.26,692.69 295.26,683.69" fill="#285a8b"/>
<polygon points="325.20,679.18 335.18,683.69 335.18,692.69 325.20,697.20 315.22,692.69 315.22,683.69" fill="#1d4065"/>
<polygon points="345.16,679.18 355.14,683.69 355.14,692.69 345.16,697.20 335.18,692.69 335.18,683.69" fill="#1d4065"/>
<polygon points="365.12,679.18 375.10,683.69 375.10,692.69 365.12,697.20 355.14,692.69 355.14,683.69" fill="#285a8b"/>
<polygon points="385.08,679.18 395.06,683.69 395.06,692.69 385.08,697.20 375.10,692.69 375.10,683.69" fill="#16314f"/>
<polygon points="405.04,679.18 415.02,683.69 415.02,692.69 405.04,697.20 395.06,692.69 395.06,683.69" fill="#234d78"/>
<polygon points="425.00,679.18 434.98,683.69 434.98,692.69 425.00,697.20 415.02,692.69 415.02,683.69" fill="#234d78"/>
<polygon points="464.92,679.18 474.90,683.69 474.90,692.69 464.92,697.20 454.94,692.69 454.94,683.69" fill="#0d1e33"/>
<polygon points="484.88,679.18 494.86,683.69 494.86,692.69 484.88,697.20 474.90,692.69 474.90,683.69" fill="#16314f"/>
<polygon points="504.84,679.18 514.82,683.69 514.82,692.69 504.84,697.20 494.86,692.69 494.86,683.69" fill="#0d1e33"/>
<polygon points="524.80,679.18 534.78,683.69 534.78,692.69 524.80,697.20 514.82,692.69 514.82,683.69" fill="#0d1e33"/>
<polygon points="544.76,679.18 554.74,683.69 554.74,692.69 544.76,697.20 534.78,692.69 534.78,683.69" fill="#16314f"/>
<polygon points="564.72,679.18 574.70,683.69 574.70,692.69 564.72,697.20 554.74,692.69 554.74,683.69" fill="#1d4065"/>
<polygon points="584.68,679.18 594.66,683.69 594.66,692.69 584.68,697.20 574.70,692.69 574.70,683.69" fill="#0d1e33"/>
<polygon points="604.64,679.18 614.62,683.69 614.62,692.69 604.64,697.20 594.66,692.69 594.66,683.69" fill="#0d1e33"/>
<polygon points="624.60,679.18 634.58,683.69 634.58,692.69 624.60,697.20 614.62,692.69 614.62,683.69" fill="#285a8b"/>
<polygon points="644.56,679.18 654.54,683.69 654.54,692.69 644.56,697.20 634.58,692.69 634.58,683.69" fill="#234d78"/>
<polygon points="664.52,679.18 674.50,683.69 674.50,692.69 664.52,697.20 654.54,692.69 654.54,683.69" fill="#2e679d"/>
<polygon points="704.44,679.18 714.42,683.69 714.42,692.69 704.44,697.20 694.46,692.69 694.46,683.69" fill="#1d4065"/>
<polygon points="724.40,679.18 734.38,683.69 734.38,692.69 724.40,697.20 714.42,692.69 714.42,683.69" fill="#1d4065"/>
<polygon points="784.28,679.18 794.26,683.69 794.26,692.69 784.28,697.20 774.30,692.69 774.30,683.69" fill="#0d1e33"/>
<polygon points="804.24,679.18 814.22,683.69 814.22,692.69 804.24,697.20 794.26,692.69 794.26,683.69" fill="#234d78"/>
<polygon points="824.20,679.18 834.18,683.69 834.18,692.69 824.20,697.20 814.22,692.69 814.22,683.69" fill="#16314f"/>
<polygon points="844.16,679.18 854.14,683.69 854.14,692.69 844.16,697.20 834.18,692.69 834.18,683.69" fill="#1d4065"/>
<polygon points="864.12,679.18 874.10,683.69 874.10,692.69 864.12,697.20 854.14,692.69 854.14,683.69" fill="#234d78"/>
<polygon points="884.08,679.18 894.06,683.69 894.06,692.69 884.08,697.20 874.10,692.69 874.10,683.69" fill="#0d1e33"/>
<polygon points="904.04,679.18 914.02,683.69 914.02,692.69 904.04,697.20 894.06,692.69 894.06,683.69" fill="#234d78"/>
<polygon points="943.96,679.18 953.94,683.69 953.94,692.69 943.96,697.20 933.98,692.69 933.98,683.69" fill="#234d78"/>
<polygon points="963.92,679.18 973.90,683.69 973.90,692.69 963.92,697.20 953.94,692.69 953.94,683.69" fill="#1d4065"/>
<polygon points="983.88,679.18 993.86,683.69 993.86,692.69 983.88,697.20 973.90,692.69 973.90,683.69" fill="#16314f"/>
<polygon points="1003.84,679.18 1013.82,683.69 1013.82,692.69 1003.84,697.20 993.86,692.69 993.86,683.69" fill="#285a8b"/>
<polygon points="1023.80,679.18 1033.78,683.69 1033.78,692.69 1023.80,697.20 1013.82,692.69 1013.82,683.69" fill="#1d4065"/>
<polygon points="1043.76,679.18 1053.74,683.69 1053.74,692.69 1043.76,697.20 1033.78,692.69 1033.78,683.69" fill="#234d78"/>
<polygon points="1063.72,679.18 1073.70,683.69 1073.70,692.69 1063.72,697.20 1053.74,692.69 1053.74,683.69" fill="#234d78"/>
<polygon points="1083.68,679.18 1093.66,683.69 1093.66,692.69 1083.68,697.20 1073.70,692.69 1073.70,683.69" fill="#0d1e33"/>
<polygon points="1103.64,679.18 1113.62,683.69 1113.62,692.69 1103.64,697.20 1093.66,692.69 1093.66,683.69" fill="#234d78"/>
<polygon points="135.58,665.67 145.56,670.18 145.56,679.18 135.58,683.69 125.60,679.18 125.60,670.18" fill="#0d1e33"/>
<polygon points="155.54,665.67 165.52,670.18 165.52,679.18 155.54,683.69 145.56,679.18 145.56,670.18" fill="#1d4065"/>
<polygon points="195.46,665.67 205.44,670.18 205.44,679.18 195.46,683.69 185.48,679.18 185.48,670.18" fill="#16314f"/>
<polygon points="215.42,665.67 225.40,670.18 225.40,679.18 215.42,683.69 205.44,679.18 205.44,670.18" fill="#0d1e33"/>
<polygon points="235.38,665.67 245.36,670.18 245.36,679.18 235.38,683.69 225.40,679.18 225.40,670.18" fill="#16314f"/>
<polygon points="255.34,665.67 265.32,670.18 265.32,679.18 255.34,683.69 245.36,679.18 245.36,670.18" fill="#0d1e33"/>
<polygon points="275.30,665.67 285.28,670.18 285.28,679.18 275.30,683.69 265.32,679.18 265.32,670.18" fill="#0d1e33"/>
<polygon points="295.26,665.67 305.24,670.18 305.24,679.18 295.26,683.69 285.28,679.18 285.28,670.18" fill="#1d4065"/>
<polygon points="315.22,665.67 325.20,670.18 325.20,679.18 315.22,683.69 305.24,679.18 305.24,670.18" fill="#0d1e33"/>
<polygon points="335.18,665.67 345.16,670.18 345.16,679.18 335.18,683.69 325.20,679.18 325.20,670.18" fill="#0d1e33"/>
<polygon points="355.14,665.67 365.12,670.18 365.12,679.18 355.14,683.69 345.16,679.18 345.16,670.18" fill="#0d1e33"/>
<polygon points="375.10,665.67 385.08,670.18 385.08,679.18 375.10,683.69 365.12,679.18 365.12,670.18" fill="#0d1e33"/>
<polygon points="395.06,665.67 405.04,670.18 405.04,679.18 395.06,683.69 385.08,679.18 385.08,670.18" fill="#16314f"/>
<polygon points="415.02,665.67 425.00,670.18 425.00,679.18 415.02,683.69 405.04,679.18 405.04,670.18" fill="#234d78"/>
<polygon points="434.98,665.67 444.96,670.18 444.96,679.18 434.98,683.69 425.00,679.18 425.00,670.18" fill="#0d1e33"/>
<polygon points="454.94,665.67 464.92,670.18 464.92,679.18 454.94,683.69 444.96,679.18 444.96,670.18" fill="#0d1e33"/>
<polygon points="474.90,665.67 484.88,670.18 484.88,679.18 474.90,683.69 464.92,679.18 464.92,670.18" fill="#234d78"/>
<polygon points="514.82,665.67 524.80,670.18 524.80,679.18 514.82,683.69 504.84,679.18 504.84,670.18" fill="#16314f"/>
<polygon points="534.78,665.67 544.76,670.18 544.76,679.18 534.78,683.69 524.80,679.18 524.80,670.18" fill="#0d1e33"/>
<polygon points="554.74,665.67 564.72,670.18 564.72,679.18 554.74,683.69 544.76,679.18 544.76,670.18" fill="#234d78"/>
<polygon points="574.70,665.67 584.68,670.18 584.68,679.18 574.70,683.69 564.72,679.18 564.72,670.18" fill="#234d78"/>
<polygon points="594.66,665.67 604.64,670.18 604.64,679.18 594.66,683.69 584.68,679.18 584.68,670.18" fill="#0d1e33"/>
<polygon points="614.62,665.67 624.60,670.18 624.60,679.18 614.62,683.69 604.64,679.18 604.64,670.18" fill="#0d1e33"/>
<polygon points="634.58,665.67 644.56,670.18 644.56,679.18 634.58,683.69 624.60,679.18 624.60,670.18" fill="#16314f"/>
<polygon points="654.54,665.67 664.52,670.18 664.52,679.18 654.54,683.69 644.56,679.18 644.56,670.18" fill="#1d4065"/>
<polygon points="674.50,665.67 684.48,670.18 684.48,679.18 674.50,683.69 664.52,679.18 664.52,670.18" fill="#0d1e33"/>
<polygon points="714.42,665.67 724.40,670.18 724.40,679.18 714.42,683.69 704.44,679.18 704.44,670.18" fill="#0d1e33"/>
<polygon points="734.38,665.67 744.36,670.18 744.36,679.18 734.38,683.69 724.40,679.18 724.40,670.18" fill="#16314f"/>
<polygon points="754.34,665.67 764.32,670.18 764.32,679.18 754.34,683.69 744.36,679.18 744.36,670.18" fill="#0d1e33"/>
<polygon points="774.30,665.67 784.28,670.18 784.28,679.18 774.30,683.69 764.32,679.18 764.32,670.18" fill="#16314f"/>
<polygon points="794.26,665.67 804.24,670.18 804.24,679.18 794.26,683.69 784.28,679.18 784.28,670.18" fill="#16314f"/>
<polygon points="814.22,665.67 824.20,670.18 824.20,679.18 814.22,683.69 804.24,679.18 804.24,670.18" fill="#285a8b"/>
<polygon points="834.18,665.67 844.16,670.18 844.16,679.18 834.18,683.69 824.20,679.18 824.20,670.18" fill="#1d4065"/>
<polygon points="854.14,665.67 864.12,670.18 864.12,679.18 854.14,683.69 844.16,679.18 844.16,670.18" fill="#0d1e33"/>
<polygon points="874.10,665.67 884.08,670.18 884.08,679.18 874.10,683.69 864.12,679.18 864.12,670.18" fill="#1d4065"/>
<polygon points="894.06,665.67 904.04,670.18 904.04,679.18 894.06,683.69 884.08,679.18 884.08,670.18" fill="#16314f"/>
<polygon points="914.02,665.67 924.00,670.18 924.00,679.18 914.02,683.69 904.04,679.18 904.04,670.18" fill="#16314f"/>
<polygon points="933.98,665.67 943.96,670.18 943.96,679.18 933.98,683.69 924.00,679.18 924.00,670.18" fill="#0d1e33"/>
<polygon points="953.94,665.67 963.92,670.18 963.92,679.18 953.94,683.69 943.96,679.18 943.96,670.18" fill="#1d4065"/>
<polygon points="973.90,665.67 983.88,670.18 983.88,679.18 973.90,683.69 963.92,679.18 963.92,670.18" fill="#0d1e33"/>
<polygon points="993.86,665.67 1003.84,670.18 1003.84,679.18 993.86,683.69 983.88,679.18 983.88,670.18" fill="#0d1e33"/>
<polygon points="1013.82,665.67 1023.80,670.18 1023.80,679.18 1013.82,683.69 1003.84,679.18 1003.84,670.18" fill="#0d1e33"/>
<polygon points="1033.78,665.67 1043.76,670.18 1043.76,679.18 1033.78,683.69 1023.80,679.18 1023.80,670.18" fill="#234d78"/>
<polygon points="1053.74,665.67 1063.72,670.18 1063.72,679.18 1053.74,683.69 1043.76,679.18 1043.76,670.18" fill="#1d4065"/>
<polygon points="1073.70,665.67 1083.68,670.18 1083.68,679.18 1073.70,683.69 1063.72,679.18 1063.72,670.18" fill="#1d4065"/>
<polygon points="1093.66,665.67 1103.64,670.18 1103.64,679.18 1093.66,683.69 1083.68,679.18 1083.68,670.18" fill="#1d4065"/>
<polygon points="1113.62,665.67 1123.60,670.18 1123.60,679.18 1113.62,683.69 1103.64,679.18 1103.64,670.18" fill="#16314f"/>
<polygon points="125.60,652.16 135.58,656.67 135.58,665.67 125.60,670.18 115.62,665.67 115.62,656.67" fill="#0d1e33"/>
<polygon points="165.52,652.16 175.50,656.67 175.50,665.67 165.52,670.18 155.54,665.67 155.54,656.67" fill="#16314f"/>
<polygon points="185.48,652.16 195.46,656.67 195.46,665.67 185.48,670.18 175.50,665.67 175.50,656.67" fill="#0d1e33"/>
<polygon points="205.44,652.16 215.42,656.67 215.42,665.67 205.44,670.18 195.46,665.67 195.46,656.67" fill="#1d4065"/>
<polygon points="225.40,652.16 235.38,656.67 235.38,665.67 225.40,670.18 215.42,665.67 215.42,656.67" fill="#1d4065"/>
<polygon points="245.36,652.16 255.34,656.67 255.34,665.67 245.36,670.18 235.38,665.67 235.38,656.67" fill="#0d1e33"/>
<polygon points="265.32,652.16 275.30,656.67 275.30,665.67 265.32,670.18 255.34,665.67 255.34,656.67" fill="#0d1e33"/>
<polygon points="285.28,652.16 295.26,656.67 295.26,665.67 285.28,670.18 275.30,665.67 275.30,656.67" fill="#16314f"/>
<polygon points="305.24,652.16 315.22,656.67 315.22,665.67 305.24,670.18 295.26,665.67 295.26,656.67" fill="#0d1e33"/>
<polygon points="325.20,652.16 335.18,656.67 335.18,665.67 325.20,670.18 315.22,665.67 315.22,656.67" fill="#0d1e33"/>
<polygon points="365.12,652.16 375.10,656.67 375.10,665.67 365.12,670.18 355.14,665.67 355.14,656.67" fill="#16314f"/>
<polygon points="385.08,652.16 395.06,656.67 395.06,665.67 385.08,670.18 375.10,665.67 375.10,656.67" fill="#16314f"/>
<polygon points="405.04,652.16 415.02,656.67 415.02,665.67 405.04,670.18 395.06,665.67 395.06,656.67" fill="#234d78"/>
<polygon points="425.00,652.16 434.98,656.67 434.98,665.67 425.00,670.18 415.02,665.67 415.02,656.67" fill="#0d1e33"/>
<polygon points="444.96,652.16 454.94,656.67 454.94,665.67 444.96,670.18 434.98,665.67 434.98,656.67" fill="#1d4065"/>
<polygon points="464.92,652.16 474.90,656.67 474.90,665.67 464.92,670.18 454.94,665.67 454.94,656.67" fill="#0d1e33"/>
<polygon points="484.88,652.16 494.86,656.67 494.86,665.67 484.88,670.18 474.90,665.67 474.90,656.67" fill="#234d78"/>
<polygon points="524.80,652.16 534.78,656.67 534.78,665.67 524.80,670.18 514.82,665.67 514.82,656.67" fill="#0d1e33"/>
<polygon points="544.76,652.16 554.74,656.67 554.74,665.67 544.76,670.18 534.78,665.67 534.78,656.67" fill="#0d1e33"/>
<polygon points="564.72,652.16 574.70,656.67 574.70,665.67 564.72,670.18 554.74,665.67 554.74,656.67" fill="#0d1e33"/>
<polygon points="604.64,652.16 614.62,656.67 614.62,665.67 604.64,670.18 594.66,665.67 594.66,656.67" fill="#16314f"/>
<polygon points="624.60,652.16 634.58,656.67 634.58,665.67 624.60,670.18 614.62,665.67 614.62,656.67" fill="#0d1e33"/>
<polygon points="644.56,652.16 654.54,656.67 654.54,665.67 644.56,670.18 634.58,665.67 634.58,656.67" fill="#0d1e33"/>
<polygon points="664.52,652.16 674.50,656.67 674.50,665.67 664.52,670.18 654.54,665.67 654.54,656.67" fill="#0d1e33"/>
<polygon points="704.44,652.16 714.42,656.67 714.42,665.67 704.44,670.18 694.46,665.67 694.46,656.67" fill="#16314f"/>
<polygon points="724.40,652.16 734.38,656.67 734.38,665.67 724.40,670.18 714.42,665.67 714.42,656.67" fill="#16314f"/>
<polygon points="744.36,652.16 754.34,656.67 754.34,665.67 744.36,670.18 734.38,665.67 734.38,656.67" fill="#16314f"/>
<polygon points="784.28,652.16 794.26,656.67 794.26,665.67 784.28,670.18 774.30,665.67 774.30,656.67" fill="#1d4065"/>
<polygon points="824.20,652.16 834.18,656.67 834.18,665.67 824.20,670.18 814.22,665.67 814.22,656.67" fill="#1d4065"/>
<polygon points="844.16,652.16 854.14,656.67 854.14,665.67 844.16,670.18 834.18,665.67 834.18,656.67" fill="#0d1e33"/>
<polygon points="864.12,652.16 874.10,656.67 874.10,665.67 864.12,670.18 854.14,665.67 854.14,656.67" fill="#0d1e33"/>
<polygon points="884.08,652.16 894.06,656.67 894.06,665.67 884.08,670.18 874.10,665.67 874.10,656.67" fill="#16314f"/>
<polygon points="924.00,652.16 933.98,656.67 933.98,665.67 924.00,670.18 914.02,665.67 914.02,656.67" fill="#0d1e33"/>
<polygon points="943.96,652.16 953.94,656.67 953.94,665.67 943.96,670.18 933.98,665.67 933.98,656.67" fill="#16314f"/>
<polygon points="983.88,652.16 993.86,656.67 993.86,665.67 983.88,670.18 973.90,665.67 973.90,656.67" fill="#0d1e33"/>
<polygon points="1043.76,652.16 1053.74,656.67 1053.74,665.67 1043.76,670.18 1033.78,665.67 1033.78,656.67" fill="#1d4065"/>
<polygon points="1063.72,652.16 1073.70,656.67 1073.70,665.67 1063.72,670.18 1053.74,665.67 1053.74,656.67" fill="#0d1e33"/>
<polygon points="1103.64,652.16 1113.62,656.67 1113.62,665.67 1103.64,670.18 1093.66,665.67 1093.66,656.67" fill="#0d1e33"/>
<polygon points="1123.60,652.16 1133.58,656.67 1133.58,665.67 1123.60,670.18 1113.62,665.67 1113.62,656.67" fill="#0d1e33"/>
<polygon points="135.58,638.65 145.56,643.16 145.56,652.16 135.58,656.67 125.60,652.16 125.60,643.16" fill="#16314f"/>
<polygon points="155.54,638.65 165.52,643.16 165.52,652.16 155.54,656.67 145.56,652.16 145.56,643.16" fill="#0d1e33"/>
<polygon points="215.42,638.65 225.40,643.16 225.40,652.16 215.42,656.67 205.44,652.16 205.44,643.16" fill="#0d1e33"/>
<polygon points="235.38,638.65 245.36,643.16 245.36,652.16 235.38,656.67 225.40,652.16 225.40,643.16" fill="#0d1e33"/>
<polygon points="255.34,638.65 265.32,643.16 265.32,652.16 255.34,656.67 245.36,652.16 245.36,643.16" fill="#0d1e33"/>
<polygon points="295.26,638.65 305.24,643.16 305.24,652.16 295.26,656.67 285.28,652.16 285.28,643.16" fill="#0d1e33"/>
<polygon points="315.22,638.65 325.20,643.16 325.20,652.16 315.22,656.67 305.24,652.16 305.24,643.16" fill="#0d1e33"/>
<polygon points="335.18,638.65 345.16,643.16 345.16,652.16 335.18,656.67 325.20,652.16 325.20,643.16" fill="#16314f"/>
<polygon points="355.14,638.65 365.12,643.16 365.12,652.16 355.14,656.67 345.16,652.16 345.16,643.16" fill="#0d1e33"/>
<polygon points="395.06,638.65 405.04,643.16 405.04,652.16 395.06,656.67 385.08,652.16 385.08,643.16" fill="#0d1e33"/>
<polygon points="415.02,638.65 425.00,643.16 425.00,652.16 415.02,656.67 405.04,652.16 405.04,643.16" fill="#0d1e33"/>
<polygon points="434.98,638.65 444.96,643.16 444.96,652.16 434.98,656.67 425.00,652.16 425.00,643.16" fill="#16314f"/>
<polygon points="474.90,638.65 484.88,643.16 484.88,652.16 474.90,656.67 464.92,652.16 464.92,643.16" fill="#0d1e33"/>
<polygon points="494.86,638.65 504.84,643.16 504.84,652.16 494.86,656.67 484.88,652.16 484.88,643.16" fill="#16314f"/>
<polygon points="534.78,638.65 544.76,643.16 544.76,652.16 534.78,656.67 524.80,652.16 524.80,643.16" fill="#0d1e33"/>
<polygon points="574.70,638.65 584.68,643.16 584.68,652.16 574.70,656.67 564.72,652.16 564.72,643.16" fill="#0d1e33"/>
<polygon points="654.54,638.65 664.52,643.16 664.52,652.16 654.54,656.67 644.56,652.16 644.56,643.16" fill="#0d1e33"/>
<polygon points="714.42,638.65 724.40,643.16 724.40,652.16 714.42,656.67 704.44,652.16 704.44,643.16" fill="#16314f"/>
<polygon points="734.38,638.65 744.36,643.16 744.36,652.16 734.38,656.67 724.40,652.16 724.40,643.16" fill="#0d1e33"/>
<polygon points="754.34,638.65 764.32,643.16 764.32,652.16 754.34,656.67 744.36,652.16 744.36,643.16" fill="#1d4065"/>
<polygon points="774.30,638.65 784.28,643.16 784.28,652.16 774.30,656.67 764.32,652.16 764.32,643.16" fill="#0d1e33"/>
<polygon points="794.26,638.65 804.24,643.16 804.24,652.16 794.26,656.67 784.28,652.16 784.28,643.16" fill="#16314f"/>
<polygon points="814.22,638.65 824.20,643.16 824.20,652.16 814.22,656.67 804.24,652.16 804.24,643.16" fill="#16314f"/>
<polygon points="834.18,638.65 844.16,643.16 844.16,652.16 834.18,656.67 824.20,652.16 824.20,643.16" fill="#0d1e33"/>
<polygon points="854.14,638.65 864.12,643.16 864.12,652.16 854.14,656.67 844.16,652.16 844.16,643.16" fill="#0d1e33"/>
<polygon points="874.10,638.65 884.08,643.16 884.08,652.16 874.10,656.67 864.12,652.16 864.12,643.16" fill="#16314f"/>
<polygon points="894.06,638.65 904.04,643.16 904.04,652.16 894.06,656.67 884.08,652.16 884.08,643.16" fill="#0d1e33"/>
<polygon points="914.02,638.65 924.00,643.16 924.00,652.16 914.02,656.67 904.04,652.16 904.04,643.16" fill="#0d1e33"/>
<polygon points="933.98,638.65 943.96,643.16 943.96,652.16 933.98,656.67 924.00,652.16 924.00,643.16" fill="#0d1e33"/>
<polygon points="973.90,638.65 983.88,643.16 983.88,652.16 973.90,656.67 963.92,652.16 963.92,643.16" fill="#234d78"/>
<polygon points="993.86,638.65 1003.84,643.16 1003.84,652.16 993.86,656.67 983.88,652.16 983.88,643.16" fill="#16314f"/>
<polygon points="1013.82,638.65 1023.80,643.16 1023.80,652.16 1013.82,656.67 1003.84,652.16 1003.84,643.16" fill="#16314f"/>
<polygon points="1053.74,638.65 1063.72,643.16 1063.72,652.16 1053.74,656.67 1043.76,652.16 1043.76,643.16" fill="#16314f"/>
<polygon points="1073.70,638.65 1083.68,643.16 1083.68,652.16 1073.70,656.67 1063.72,652.16 1063.72,643.16" fill="#0d1e33"/>
<polygon points="1093.66,638.65 1103.64,643.16 1103.64,652.16 1093.66,656.67 1083.68,652.16 1083.68,643.16" fill="#234d78"/>
<polygon points="185.48,625.14 195.46,629.65 195.46,638.65 185.48,643.16 175.50,638.65 175.50,629.65" fill="#0d1e33"/>
<polygon points="205.44,625.14 215.42,629.65 215.42,638.65 205.44,643.16 195.46,638.65 195.46,629.65" fill="#16314f"/>
<polygon points="225.40,625.14 235.38,629.65 235.38,638.65 225.40,643.16 215.42,638.65 215.42,629.65" fill="#234d78"/>
<polygon points="265.32,625.14 275.30,629.65 275.30,638.65 265.32,643.16 255.34,638.65 255.34,629.65" fill="#285a8b"/>
<polygon points="285.28,625.14 295.26,629.65 295.26,638.65 285.28,643.16 275.30,638.65 275.30,629.65" fill="#0d1e33"/>
<polygon points="325.20,625.14 335.18,629.65 335.18,638.65 325.20,643.16 315.22,638.65 315.22,629.65" fill="#16314f"/>
<polygon points="345.16,625.14 355.14,629.65 355.14,638.65 345.16,643.16 335.18,638.65 335.18,629.65" fill="#16314f"/>
<polygon points="385.08,625.14 395.06,629.65 395.06,638.65 385.08,643.16 375.10,638.65 375.10,629.65" fill="#0d1e33"/>
<polygon points="425.00,625.14 434.98,629.65 434.98,638.65 425.00,643.16 415.02,638.65 415.02,629.65" fill="#16314f"/>
<polygon points="444.96,625.14 454.94,629.65 454.94,638.65 444.96,643.16 434.98,638.65 434.98,629.65" fill="#0d1e33"/>
<polygon points="464.92,625.14 474.90,629.65 474.90,638.65 464.92,643.16 454.94,638.65 454.94,629.65" fill="#16314f"/>
<polygon points="524.80,625.14 534.78,629.65 534.78,638.65 524.80,643.16 514.82,638.65 514.82,629.65" fill="#0d1e33"/>
<polygon points="544.76,625.14 554.74,629.65 554.74,638.65 544.76,643.16 534.78,638.65 534.78,629.65" fill="#1d4065"/>
<polygon points="584.68,625.14 594.66,629.65 594.66,638.65 584.68,643.16 574.70,638.65 574.70,629.65" fill="#0d1e33"/>
<polygon points="624.60,625.14 634.58,629.65 634.58,638.65 624.60,643.16 614.62,638.65 614.62,629.65" fill="#0d1e33"/>
<polygon points="664.52,625.14 674.50,629.65 674.50,638.65 664.52,643.16 654.54,638.65 654.54,629.65" fill="#16314f"/>
<polygon points="684.48,625.14 694.46,629.65 694.46,638.65 684.48,643.16 674.50,638.65 674.50,629.65" fill="#16314f"/>
<polygon points="704.44,625.14 714.42,629.65 714.42,638.65 704.44,643.16 694.46,638.65 694.46,629.65" fill="#0d1e33"/>
<polygon points="744.36,625.14 754.34,629.65 754.34,638.65 744.36,643.16 734.38,638.65 734.38,629.65" fill="#0d1e33"/>
<polygon points="784.28,625.14 794.26,629.65 794.26,638.65 784.28,643.16 774.30,638.65 774.30,629.65" fill="#16314f"/>
<polygon points="864.12,625.14 874.10,629.65 874.10,638.65 864.12,643.16 854.14,638.65 854.14,629.65" fill="#0d1e33"/>
<polygon points="884.08,625.14 894.06,629.65 894.06,638.65 884.08,643.16 874.10,638.65 874.10,629.65" fill="#1d4065"/>
<polygon points="904.04,625.14 914.02,629.65 914.02,638.65 904.04,643.16 894.06,638.65 894.06,629.65" fill="#0d1e33"/>
<polygon points="924.00,625.14 933.98,629.65 933.98,638.65 924.00,643.16 914.02,638.65 914.02,629.65" fill="#16314f"/>
<polygon points="943.96,625.14 953.94,629.65 953.94,638.65 943.96,643.16 933.98,638.65 933.98,629.65" fill="#16314f"/>
<polygon points="963.92,625.14 973.90,629.65 973.90,638.65 963.92,643.16 953.94,638.65 953.94,629.65" fill="#1d4065"/>
<polygon points="1003.84,625.14 1013.82,629.65 1013.82,638.65 1003.84,643.16 993.86,638.65 993.86,629.65" fill="#16314f"/>
<polygon points="1023.80,625.14 1033.78,629.65 1033.78,638.65 1023.80,643.16 1013.82,638.65 1013.82,629.65" fill="#16314f"/>
<polygon points="1043.76,625.14 1053.74,629.65 1053.74,638.65 1043.76,643.16 1033.78,638.65 1033.78,629.65" fill="#0d1e33"/>
<polygon points="1063.72,625.14 1073.70,629.65 1073.70,638.65 1063.72,643.16 1053.74,638.65 1053.74,629.65" fill="#16314f"/>
<polygon points="1103.64,625.14 1113.62,629.65 1113.62,638.65 1103.64,643.16 1093.66,638.65 1093.66,629.65" fill="#0d1e33"/>
<polygon points="1123.60,625.14 1133.58,629.65 1133.58,638.65 1123.60,643.16 1113.62,638.65 1113.62,629.65" fill="#0d1e33"/>
<polygon points="235.38,611.63 245.36,616.14 245.36,625.14 235.38,629.65 225.40,625.14 225.40,616.14" fill="#0d1e33"/>
<polygon points="255.34,611.63 265.32,616.14 265.32,625.14 255.34,629.65 245.36,625.14 245.36,616.14" fill="#16314f"/>
<polygon points="275.30,611.63 285.28,616.14 285.28,625.14 275.30,629.65 265.32,625.14 265.32,616.14" fill="#0d1e33"/>
<polygon points="355.14,611.63 365.12,616.14 365.12,625.14 355.14,629.65 345.16,625.14 345.16,616.14" fill="#16314f"/>
<polygon points="375.10,611.63 385.08,616.14 385.08,625.14 375.10,629.65 365.12,625.14 365.12,616.14" fill="#0d1e33"/>
<polygon points="395.06,611.63 405.04,616.14 405.04,625.14 395.06,629.65 385.08,625.14 385.08,616.14" fill="#0d1e33"/>
<polygon points="454.94,611.63 464.92,616.14 464.92,625.14 454.94,629.65 444.96,625.14 444.96,616.14" fill="#16314f"/>
<polygon points="514.82,611.63 524.80,616.14 524.80,625.14 514.82,629.65 504.84,625.14 504.84,616.14" fill="#16314f"/>
<polygon points="614.62,611.63 624.60,616.14 624.60,625.14 614.62,629.65 604.64,625.14 604.64,616.14" fill="#16314f"/>
<polygon points="634.58,611.63 644.56,616.14 644.56,625.14 634.58,629.65 624.60,625.14 624.60,616.14" fill="#1d4065"/>
<polygon points="654.54,611.63 664.52,616.14 664.52,625.14 654.54,629.65 644.56,625.14 644.56,616.14" fill="#0d1e33"/>
<polygon points="674.50,611.63 684.48,616.14 684.48,625.14 674.50,629.65 664.52,625.14 664.52,616.14" fill="#0d1e33"/>
<polygon points="714.42,611.63 724.40,616.14 724.40,625.14 714.42,629.65 704.44,625.14 704.44,616.14" fill="#0d1e33"/>
<polygon points="734.38,611.63 744.36,616.14 744.36,625.14 734.38,629.65 724.40,625.14 724.40,616.14" fill="#0d1e33"/>
<polygon points="774.30,611.63 784.28,616.14 784.28,625.14 774.30,629.65 764.32,625.14 764.32,616.14" fill="#0d1e33"/>
<polygon points="814.22,611.63 824.20,616.14 824.20,625.14 814.22,629.65 804.24,625.14 804.24,616.14" fill="#0d1e33"/>
<polygon points="854.14,611.63 864.12,616.14 864.12,625.14 854.14,629.65 844.16,625.14 844.16,616.14" fill="#0d1e33"/>
<polygon points="874.10,611.63 884.08,616.14 884.08,625.14 874.10,629.65 864.12,625.14 864.12,616.14" fill="#16314f"/>
<polygon points="914.02,611.63 924.00,616.14 924.00,625.14 914.02,629.65 904.04,625.14 904.04,616.14" fill="#0d1e33"/>
<polygon points="933.98,611.63 943.96,616.14 943.96,625.14 933.98,629.65 924.00,625.14 924.00,616.14" fill="#16314f"/>
<polygon points="1013.82,611.63 1023.80,616.14 1023.80,625.14 1013.82,629.65 1003.84,625.14 1003.84,616.14" fill="#0d1e33"/>
<polygon points="1033.78,611.63 1043.76,616.14 1043.76,625.14 1033.78,629.65 1023.80,625.14 1023.80,616.14" fill="#16314f"/>
<polygon points="1053.74,611.63 1063.72,616.14 1063.72,625.14 1053.74,629.65 1043.76,625.14 1043.76,616.14" fill="#0d1e33"/>
<polygon points="1073.70,611.63 1083.68,616.14 1083.68,625.14 1073.70,629.65 1063.72,625.14 1063.72,616.14" fill="#0d1e33"/>
<polygon points="1093.66,611.63 1103.64,616.14 1103.64,625.14 1093.66,629.65 1083.68,625.14 1083.68,616.14" fill="#0d1e33"/>
<polygon points="185.48,598.12 195.46,602.63 195.46,611.63 185.48,616.14 175.50,611.63 175.50,602.63" fill="#0d1e33"/>
<polygon points="285.28,598.12 295.26,602.63 295.26,611.63 285.28,616.14 275.30,611.63 275.30,602.63" fill="#1d4065"/>
<polygon points="444.96,598.12 454.94,602.63 454.94,611.63 444.96,616.14 434.98,611.63 434.98,602.63" fill="#0d1e33"/>
<polygon points="464.92,598.12 474.90,602.63 474.90,611.63 464.92,616.14 454.94,611.63 454.94,602.63" fill="#1d4065"/>
<polygon points="484.88,598.12 494.86,602.63 494.86,611.63 484.88,616.14 474.90,611.63 474.90,602.63" fill="#0d1e33"/>
<polygon points="504.84,598.12 514.82,602.63 514.82,611.63 504.84,616.14 494.86,611.63 494.86,602.63" fill="#0d1e33"/>
<polygon points="524.80,598.12 534.78,602.63 534.78,611.63 524.80,616.14 514.82,611.63 514.82,602.63" fill="#0d1e33"/>
<polygon points="544.76,598.12 554.74,602.63 554.74,611.63 544.76,616.14 534.78,611.63 534.78,602.63" fill="#1d4065"/>
<polygon points="564.72,598.12 574.70,602.63 574.70,611.63 564.72,616.14 554.74,611.63 554.74,602.63" fill="#16314f"/>
<polygon points="584.68,598.12 594.66,602.63 594.66,611.63 584.68,616.14 574.70,611.63 574.70,602.63" fill="#16314f"/>
<polygon points="624.60,598.12 634.58,602.63 634.58,611.63 624.60,616.14 614.62,611.63 614.62,602.63" fill="#1d4065"/>
<polygon points="704.44,598.12 714.42,602.63 714.42,611.63 704.44,616.14 694.46,611.63 694.46,602.63" fill="#0d1e33"/>
<polygon points="804.24,598.12 814.22,602.63 814.22,611.63 804.24,616.14 794.26,611.63 794.26,602.63" fill="#16314f"/>
<polygon points="844.16,598.12 854.14,602.63 854.14,611.63 844.16,616.14 834.18,611.63 834.18,602.63" fill="#0d1e33"/>
<polygon points="904.04,598.12 914.02,602.63 914.02,611.63 904.04,616.14 894.06,611.63 894.06,602.63" fill="#0d1e33"/>
<polygon points="943.96,598.12 953.94,602.63 953.94,611.63 943.96,616.14 933.98,611.63 933.98,602.63" fill="#16314f"/>
<polygon points="963.92,598.12 973.90,602.63 973.90,611.63 963.92,616.14 953.94,611.63 953.94,602.63" fill="#0d1e33"/>
<polygon points="1043.76,598.12 1053.74,602.63 1053.74,611.63 1043.76,616.14 1033.78,611.63 1033.78,602.63" fill="#0d1e33"/>
<polygon points="1063.72,598.12 1073.70,602.63 1073.70,611.63 1063.72,616.14 1053.74,611.63 1053.74,602.63" fill="#16314f"/>
<polygon points="1103.64,598.12 1113.62,602.63 1113.62,611.63 1103.64,616.14 1093.66,611.63 1093.66,602.63" fill="#0d1e33"/>
<polygon points="355.14,584.61 365.12,589.12 365.12,598.12 355.14,602.63 345.16,598.12 345.16,589.12" fill="#0d1e33"/>
<polygon points="395.06,584.61 405.04,589.12 405.04,598.12 395.06,602.63 385.08,598.12 385.08,589.12" fill="#0d1e33"/>
<polygon points="454.94,584.61 464.92,589.12 464.92,598.12 454.94,602.63 444.96,598.12 444.96,589.12" fill="#0d1e33"/>
<polygon points="474.90,584.61 484.88,589.12 484.88,598.12 474.90,602.63 464.92,598.12 464.92,589.12" fill="#16314f"/>
<polygon points="494.86,584.61 504.84,589.12 504.84,598.12 494.86,602.63 484.88,598.12 484.88,589.12" fill="#0d1e33"/>
<polygon points="514.82,584.61 524.80,589.12 524.80,598.12 514.82,602.63 504.84,598.12 504.84,589.12" fill="#0d1e33"/>
<polygon points="554.74,584.61 564.72,589.12 564.72,598.12 554.74,602.63 544.76,598.12 544.76,589.12" fill="#0d1e33"/>
<polygon points="634.58,584.61 644.56,589.12 644.56,598.12 634.58,602.63 624.60,598.12 624.60,589.12" fill="#0d1e33"/>
<polygon points="754.34,584.61 764.32,589.12 764.32,598.12 754.34,602.63 744.36,598.12 744.36,589.12" fill="#0d1e33"/>
<polygon points="814.22,584.61 824.20,589.12 824.20,598.12 814.22,602.63 804.24,598.12 804.24,589.12" fill="#16314f"/>
<polygon points="834.18,584.61 844.16,589.12 844.16,598.12 834.18,602.63 824.20,598.12 824.20,589.12" fill="#0d1e33"/>
<polygon points="914.02,584.61 924.00,589.12 924.00,598.12 914.02,602.63 904.04,598.12 904.04,589.12" fill="#16314f"/>
<polygon points="953.94,584.61 963.92,589.12 963.92,598.12 953.94,602.63 943.96,598.12 943.96,589.12" fill="#285a8b"/>
<polygon points="973.90,584.61 983.88,589.12 983.88,598.12 973.90,602.63 963.92,598.12 963.92,589.12" fill="#0d1e33"/>
<polygon points="1013.82,584.61 1023.80,589.12 1023.80,598.12 1013.82,602.63 1003.84,598.12 1003.84,589.12" fill="#0d1e33"/>
<polygon points="1093.66,584.61 1103.64,589.12 1103.64,598.12 1093.66,602.63 1083.68,598.12 1083.68,589.12" fill="#0d1e33"/>
<polygon points="205.44,571.10 215.42,575.61 215.42,584.61 205.44,589.12 195.46,584.61 195.46,575.61" fill="#0d1e33"/>
<polygon points="285.28,571.10 295.26,575.61 295.26,584.61 285.28,589.12 275.30,584.61 275.30,575.61" fill="#0d1e33"/>
<polygon points="385.08,571.10 395.06,575.61 395.06,584.61 385.08,589.12 375.10,584.61 375.10,575.61" fill="#0d1e33"/>
<polygon points="444.96,571.10 454.94,575.61 454.94,584.61 444.96,589.12 434.98,584.61 434.98,575.61" fill="#0d1e33"/>
<polygon points="464.92,571.10 474.90,575.61 474.90,584.61 464.92,589.12 454.94,584.61 454.94,575.61" fill="#0d1e33"/>
<polygon points="504.84,571.10 514.82,575.61 514.82,584.61 504.84,589.12 494.86,584.61 494.86,575.61" fill="#0d1e33"/>
<polygon points="544.76,571.10 554.74,575.61 554.74,584.61 544.76,589.12 534.78,584.61 534.78,575.61" fill="#0d1e33"/>
<polygon points="584.68,571.10 594.66,575.61 594.66,584.61 584.68,589.12 574.70,584.61 574.70,575.61" fill="#234d78"/>
<polygon points="644.56,571.10 654.54,575.61 654.54,584.61 644.56,589.12 634.58,584.61 634.58,575.61" fill="#0d1e33"/>
<polygon points="724.40,571.10 734.38,575.61 734.38,584.61 724.40,589.12 714.42,584.61 714.42,575.61" fill="#0d1e33"/>
<polygon points="764.32,571.10 774.30,575.61 774.30,584.61 764.32,589.12 754.34,584.61 754.34,575.61" fill="#0d1e33"/>
<polygon points="804.24,571.10 814.22,575.61 814.22,584.61 804.24,589.12 794.26,584.61 794.26,575.61" fill="#0d1e33"/>
<polygon points="1063.72,571.10 1073.70,575.61 1073.70,584.61 1063.72,589.12 1053.74,584.61 1053.74,575.61" fill="#0d1e33"/>
<polygon points="1083.68,571.10 1093.66,575.61 1093.66,584.61 1083.68,589.12 1073.70,584.61 1073.70,575.61" fill="#0d1e33"/>
<polygon points="215.42,557.59 225.40,562.10 225.40,571.10 215.42,575.61 205.44,571.10 205.44,562.10" fill="#16314f"/>
<polygon points="355.14,557.59 365.12,562.10 365.12,571.10 355.14,575.61 345.16,571.10 345.16,562.10" fill="#16314f"/>
<polygon points="474.90,557.59 484.88,562.10 484.88,571.10 474.90,575.61 464.92,571.10 464.92,562.10" fill="#0d1e33"/>
<polygon points="494.86,557.59 504.84,562.10 504.84,571.10 494.86,575.61 484.88,571.10 484.88,562.10" fill="#0d1e33"/>
<polygon points="514.82,557.59 524.80,562.10 524.80,571.10 514.82,575.61 504.84,571.10 504.84,562.10" fill="#16314f"/>
<polygon points="554.74,557.59 564.72,562.10 564.72,571.10 554.74,575.61 544.76,571.10 544.76,562.10" fill="#0d1e33"/>
<polygon points="574.70,557.59 584.68,562.10 584.68,571.10 574.70,575.61 564.72,571.10 564.72,562.10" fill="#0d1e33"/>
<polygon points="614.62,557.59 624.60,562.10 624.60,571.10 614.62,575.61 604.64,571.10 604.64,562.10" fill="#0d1e33"/>
<polygon points="714.42,557.59 724.40,562.10 724.40,571.10 714.42,575.61 704.44,571.10 704.44,562.10" fill="#0d1e33"/>
<polygon points="814.22,557.59 824.20,562.10 824.20,571.10 814.22,575.61 804.24,571.10 804.24,562.10" fill="#0d1e33"/>
<polygon points="874.10,557.59 884.08,562.10 884.08,571.10 874.10,575.61 864.12,571.10 864.12,562.10" fill="#0d1e33"/>
<polygon points="894.06,557.59 904.04,562.10 904.04,571.10 894.06,575.61 884.08,571.10 884.08,562.10" fill="#0d1e33"/>
<polygon points="953.94,557.59 963.92,562.10 963.92,571.10 953.94,575.61 943.96,571.10 943.96,562.10" fill="#16314f"/>
<polygon points="993.86,557.59 1003.84,562.10 1003.84,571.10 993.86,575.61 983.88,571.10 983.88,562.10" fill="#0d1e33"/>
<polygon points="1033.78,557.59 1043.76,562.10 1043.76,571.10 1033.78,575.61 1023.80,571.10 1023.80,562.10" fill="#16314f"/>
<polygon points="1053.74,557.59 1063.72,562.10 1063.72,571.10 1053.74,575.61 1043.76,571.10 1043.76,562.10" fill="#1d4065"/>
<polygon points="1133.58,557.59 1143.56,562.10 1143.56,571.10 1133.58,575.61 1123.60,571.10 1123.60,562.10" fill="#0d1e33"/>
<polygon points="285.28,544.08 295.26,548.59 295.26,557.59 285.28,562.10 275.30,557.59 275.30,548.59" fill="#0d1e33"/>
<polygon points="385.08,544.08 395.06,548.59 395.06,557.59 385.08,562.10 375.10,557.59 375.10,548.59" fill="#16314f"/>
<polygon points="464.92,544.08 474.90,548.59 474.90,557.59 464.92,562.10 454.94,557.59 454.94,548.59" fill="#0d1e33"/>
<polygon points="484.88,544.08 494.86,548.59 494.86,557.59 484.88,562.10 474.90,557.59 474.90,548.59" fill="#0d1e33"/>
<polygon points="564.72,544.08 574.70,548.59 574.70,557.59 564.72,562.10 554.74,557.59 554.74,548.59" fill="#0d1e33"/>
<polygon points="644.56,544.08 654.54,548.59 654.54,557.59 644.56,562.10 634.58,557.59 634.58,548.59" fill="#0d1e33"/>
<polygon points="684.48,544.08 694.46,548.59 694.46,557.59 684.48,562.10 674.50,557.59 674.50,548.59" fill="#0d1e33"/>
<polygon points="704.44,544.08 714.42,548.59 714.42,557.59 704.44,562.10 694.46,557.59 694.46,548.59" fill="#0d1e33"/>
<polygon points="724.40,544.08 734.38,548.59 734.38,557.59 724.40,562.10 714.42,557.59 714.42,548.59" fill="#0d1e33"/>
<polygon points="744.36,544.08 754.34,548.59 754.34,557.59 744.36,562.10 734.38,557.59 734.38,548.59" fill="#0d1e33"/>
<polygon points="764.32,544.08 774.30,548.59 774.30,557.59 764.32,562.10 754.34,557.59 754.34,548.59" fill="#0d1e33"/>
<polygon points="844.16,544.08 854.14,548.59 854.14,557.59 844.16,562.10 834.18,557.59 834.18,548.59" fill="#16314f"/>
<polygon points="864.12,544.08 874.10,548.59 874.10,557.59 864.12,562.10 854.14,557.59 854.14,548.59" fill="#0d1e33"/>
<polygon points="963.92,544.08 973.90,548.59 973.90,557.59 963.92,562.10 953.94,557.59 953.94,548.59" fill="#0d1e33"/>
<polygon points="1003.84,544.08 1013.82,548.59 1013.82,557.59 1003.84,562.10 993.86,557.59 993.86,548.59" fill="#16314f"/>
<polygon points="1023.80,544.08 1033.78,548.59 1033.78,557.59 1023.80,562.10 1013.82,557.59 1013.82,548.59" fill="#0d1e33"/>
<polygon points="1063.72,544.08 1073.70,548.59 1073.70,557.59 1063.72,562.10 1053.74,557.59 1053.74,548.59" fill="#0d1e33"/>
<polygon points="175.50,530.57 185.48,535.08 185.48,544.08 175.50,548.59 165.52,544.08 165.52,535.08" fill="#0d1e33"/>
<polygon points="195.46,530.57 205.44,535.08 205.44,544.08 195.46,548.59 185.48,544.08 185.48,535.08" fill="#0d1e33"/>
<polygon points="315.22,530.57 325.20,535.08 325.20,544.08 315.22,548.59 305.24,544.08 305.24,535.08" fill="#0d1e33"/>
<polygon points="395.06,530.57 405.04,535.08 405.04,544.08 395.06,548.59 385.08,544.08 385.08,535.08" fill="#0d1e33"/>
<polygon points="434.98,530.57 444.96,535.08 444.96,544.08 434.98,548.59 425.00,544.08 425.00,535.08" fill="#0d1e33"/>
<polygon points="454.94,530.57 464.92,535.08 464.92,544.08 454.94,548.59 444.96,544.08 444.96,535.08" fill="#0d1e33"/>
<polygon points="554.74,530.57 564.72,535.08 564.72,544.08 554.74,548.59 544.76,544.08 544.76,535.08" fill="#0d1e33"/>
<polygon points="854.14,530.57 864.12,535.08 864.12,544.08 854.14,548.59 844.16,544.08 844.16,535.08" fill="#0d1e33"/>
<polygon points="1113.62,530.57 1123.60,535.08 1123.60,544.08 1113.62,548.59 1103.64,544.08 1103.64,535.08" fill="#0d1e33"/>
<polygon points="325.20,517.06 335.18,521.57 335.18,530.57 325.20,535.08 315.22,530.57 315.22,521.57" fill="#0d1e33"/>
<polygon points="405.04,517.06 415.02,521.57 415.02,530.57 405.04,535.08 395.06,530.57 395.06,521.57" fill="#0d1e33"/>
<polygon points="425.00,517.06 434.98,521.57 434.98,530.57 425.00,535.08 415.02,530.57 415.02,521.57" fill="#0d1e33"/>
<polygon points="444.96,517.06 454.94,521.57 454.94,530.57 444.96,535.08 434.98,530.57 434.98,521.57" fill="#0d1e33"/>
<polygon points="584.68,517.06 594.66,521.57 594.66,530.57 584.68,535.08 574.70,530.57 574.70,521.57" fill="#0d1e33"/>
<polygon points="624.60,517.06 634.58,521.57 634.58,530.57 624.60,535.08 614.62,530.57 614.62,521.57" fill="#0d1e33"/>
<polygon points="844.16,517.06 854.14,521.57 854.14,530.57 844.16,535.08 834.18,530.57 834.18,521.57" fill="#0d1e33"/>
<polygon points="864.12,517.06 874.10,521.57 874.10,530.57 864.12,535.08 854.14,530.57 854.14,521.57" fill="#0d1e33"/>
<polygon points="1003.84,517.06 1013.82,521.57 1013.82,530.57 1003.84,535.08 993.86,530.57 993.86,521.57" fill="#16314f"/>
<polygon points="1023.80,517.06 1033.78,521.57 1033.78,530.57 1023.80,535.08 1013.82,530.57 1013.82,521.57" fill="#0d1e33"/>
<polygon points="1043.76,517.06 1053.74,521.57 1053.74,530.57 1043.76,535.08 1033.78,530.57 1033.78,521.57" fill="#0d1e33"/>
<polygon points="1083.68,517.06 1093.66,521.57 1093.66,530.57 1083.68,535.08 1073.70,530.57 1073.70,521.57" fill="#0d1e33"/>
<polygon points="434.98,503.55 444.96,508.06 444.96,517.06 434.98,521.57 425.00,517.06 425.00,508.06" fill="#0d1e33"/>
<polygon points="534.78,503.55 544.76,508.06 544.76,517.06 534.78,521.57 524.80,517.06 524.80,508.06" fill="#0d1e33"/>
<polygon points="774.30,503.55 784.28,508.06 784.28,517.06 774.30,521.57 764.32,517.06 764.32,508.06" fill="#0d1e33"/>
<polygon points="834.18,503.55 844.16,508.06 844.16,517.06 834.18,521.57 824.20,517.06 824.20,508.06" fill="#0d1e33"/>
<polygon points="973.90,503.55 983.88,508.06 983.88,517.06 973.90,521.57 963.92,517.06 963.92,508.06" fill="#0d1e33"/>
<polygon points="305.24,490.04 315.22,494.55 315.22,503.55 305.24,508.06 295.26,503.55 295.26,494.55" fill="#0d1e33"/>
<polygon points="484.88,490.04 494.86,494.55 494.86,503.55 484.88,508.06 474.90,503.55 474.90,494.55" fill="#0d1e33"/>
<polygon points="764.32,490.04 774.30,494.55 774.30,503.55 764.32,508.06 754.34,503.55 754.34,494.55" fill="#0d1e33"/>
<polygon points="824.20,490.04 834.18,494.55 834.18,503.55 824.20,508.06 814.22,503.55 814.22,494.55" fill="#0d1e33"/>
<polygon points="864.12,490.04 874.10,494.55 874.10,503.55 864.12,508.06 854.14,503.55 854.14,494.55" fill="#0d1e33"/>
<polygon points="1043.76,490.04 1053.74,494.55 1053.74,503.55 1043.76,508.06 1033.78,503.55 1033.78,494.55" fill="#0d1e33"/>
<polygon points="1103.64,490.04 1113.62,494.55 1113.62,503.55 1103.64,508.06 1093.66,503.55 1093.66,494.55" fill="#16314f"/>
<polygon points="315.22,476.53 325.20,481.04 325.20,490.04 315.22,494.55 305.24,490.04 305.24,481.04" fill="#0d1e33"/>
<polygon points="554.74,476.53 564.72,481.04 564.72,490.04 554.74,494.55 544.76,490.04 544.76,481.04" fill="#0d1e33"/>
<polygon points="614.62,476.53 624.60,481.04 624.60,490.04 614.62,494.55 604.64,490.04 604.64,481.04" fill="#0d1e33"/>
<polygon points="634.58,476.53 644.56,481.04 644.56,490.04 634.58,494.55 624.60,490.04 624.60,481.04" fill="#0d1e33"/>
<polygon points="674.50,476.53 684.48,481.04 684.48,490.04 674.50,494.55 664.52,490.04 664.52,481.04" fill="#0d1e33"/>
<polygon points="933.98,476.53 943.96,481.04 943.96,490.04 933.98,494.55 924.00,490.04 924.00,481.04" fill="#0d1e33"/>
<polygon points="345.16,463.02 355.14,467.53 355.14,476.53 345.16,481.04 335.18,476.53 335.18,467.53" fill="#0d1e33"/>
<polygon points="464.92,463.02 474.90,467.53 474.90,476.53 464.92,481.04 454.94,476.53 454.94,467.53" fill="#0d1e33"/>
<polygon points="544.76,463.02 554.74,467.53 554.74,476.53 544.76,481.04 534.78,476.53 534.78,467.53" fill="#0d1e33"/>
<polygon points="584.68,463.02 594.66,467.53 594.66,476.53 584.68,481.04 574.70,476.53 574.70,467.53" fill="#0d1e33"/>
<polygon points="704.44,463.02 714.42,467.53 714.42,476.53 704.44,481.04 694.46,476.53 694.46,467.53" fill="#0d1e33"/>
<polygon points="884.08,463.02 894.06,467.53 894.06,476.53 884.08,481.04 874.10,476.53 874.10,467.53" fill="#0d1e33"/>
<polygon points="904.04,463.02 914.02,467.53 914.02,476.53 904.04,481.04 894.06,476.53 894.06,467.53" fill="#0d1e33"/>
<polygon points="924.00,463.02 933.98,467.53 933.98,476.53 924.00,481.04 914.02,476.53 914.02,467.53" fill="#0d1e33"/>
<polygon points="1003.84,463.02 1013.82,467.53 1013.82,476.53 1003.84,481.04 993.86,476.53 993.86,467.53" fill="#16314f"/>
<polygon points="534.78,449.51 544.76,454.02 544.76,463.02 534.78,467.53 524.80,463.02 524.80,454.02" fill="#0d1e33"/>
<polygon points="854.14,449.51 864.12,454.02 864.12,463.02 854.14,467.53 844.16,463.02 844.16,454.02" fill="#0d1e33"/>
<polygon points="1053.74,449.51 1063.72,454.02 1063.72,463.02 1053.74,467.53 1043.76,463.02 1043.76,454.02" fill="#0d1e33"/>
<polygon points="624.60,436.00 634.58,440.51 634.58,449.51 624.60,454.02 614.62,449.51 614.62,440.51" fill="#0d1e33"/>
<polygon points="694.46,422.49 704.44,427.00 704.44,436.00 694.46,440.51 684.48,436.00 684.48,427.00" fill="#0d1e33"/>
<polygon points="933.98,422.49 943.96,427.00 943.96,436.00 933.98,440.51 924.00,436.00 924.00,427.00" fill="#0d1e33"/>
<polygon points="993.86,422.49 1003.84,427.00 1003.84,436.00 993.86,440.51 983.88,436.00 983.88,427.00" fill="#0d1e33"/>
<polygon points="924.00,408.98 933.98,413.49 933.98,422.49 924.00,427.00 914.02,422.49 914.02,413.49" fill="#0d1e33"/>
<polygon points="514.82,395.47 524.80,399.98 524.80,408.98 514.82,413.49 504.84,408.98 504.84,399.98" fill="#0d1e33"/>
<polygon points="884.08,381.96 894.06,386.47 894.06,395.47 884.08,399.98 874.10,395.47 874.10,386.47" fill="#0d1e33"/>
<polygon points="614.62,368.45 624.60,372.96 624.60,381.96 614.62,386.47 604.64,381.96 604.64,372.96" fill="#0d1e33"/>
<polygon points="674.50,368.45 684.48,372.96 684.48,381.96 674.50,386.47 664.52,381.96 664.52,372.96" fill="#0d1e33"/>
<polygon points="854.14,368.45 864.12,372.96 864.12,381.96 854.14,386.47 844.16,381.96 844.16,372.96" fill="#0d1e33"/>
<polygon points="914.02,368.45 924.00,372.96 924.00,381.96 914.02,386.47 904.04,381.96 904.04,372.96" fill="#0d1e33"/>
<polygon points="973.90,368.45 983.88,372.96 983.88,381.96 973.90,386.47 963.92,381.96 963.92,372.96" fill="#16314f"/>
<polygon points="1023.80,354.94 1033.78,359.45 1033.78,368.45 1023.80,372.96 1013.82,368.45 1013.82,359.45" fill="#0d1e33"/>
<polygon points="1123.60,354.94 1133.58,359.45 1133.58,368.45 1123.60,372.96 1113.62,368.45 1113.62,359.45" fill="#0d1e33"/>
<polygon points="894.06,341.43 904.04,345.94 904.04,354.94 894.06,359.45 884.08,354.94 884.08,345.94" fill="#0d1e33"/>
<polygon points="814.22,314.41 824.20,318.92 824.20,327.92 814.22,332.43 804.24,327.92 804.24,318.92" fill="#0d1e33"/>
<polygon points="1043.76,300.90 1053.74,305.41 1053.74,314.41 1043.76,318.92 1033.78,314.41 1033.78,305.41" fill="#0d1e33"/>
<polygon points="794.26,287.39 804.24,291.90 804.24,300.90 794.26,305.41 784.28,300.90 784.28,291.90" fill="#0d1e33"/>
<polygon points="1073.70,287.39 1083.68,291.90 1083.68,300.90 1073.70,305.41 1063.72,300.90 1063.72,291.90" fill="#0d1e33"/>
<polygon points="943.96,273.88 953.94,278.39 953.94,287.39 943.96,291.90 933.98,287.39 933.98,278.39" fill="#0d1e33"/>
<polygon points="1103.64,273.88 1113.62,278.39 1113.62,287.39 1103.64,291.90 1093.66,287.39 1093.66,278.39" fill="#0d1e33"/>
<polygon points="933.98,206.33 943.96,210.84 943.96,219.84 933.98,224.35 924.00,219.84 924.00,210.84" fill="#0d1e33"/>
<polygon points="1013.82,179.31 1023.80,183.82 1023.80,192.82 1013.82,197.33 1003.84,192.82 1003.84,183.82" fill="#0d1e33"/>
<polygon points="1073.70,179.31 1083.68,183.82 1083.68,192.82 1073.70,197.33 1063.72,192.82 1063.72,183.82" fill="#0d1e33"/>
<polygon points="963.92,165.80 973.90,170.31 973.90,179.31 963.92,183.82 953.94,179.31 953.94,170.31" fill="#0d1e33"/>
<polygon points="1043.76,165.80 1053.74,170.31 1053.74,179.31 1043.76,183.82 1033.78,179.31 1033.78,170.31" fill="#0d1e33"/>
<polygon points="993.86,152.29 1003.84,156.80 1003.84,165.80 993.86,170.31 983.88,165.80 983.88,156.80" fill="#0d1e33"/>
<polygon points="933.98,44.21 943.96,48.72 943.96,57.72 933.98,62.23 924.00,57.72 924.00,48.72" fill="#0d1e33"/>
</g>
<polyline points="151.25,777.05 175,772.05 200,768.30 225,765.80 250,764.55 275,764.80 300,765.55 325,768.80 355,769.55 395,770.55 425,770.30 460,771.30 500,769.80 525,770.80 555,771.05 585,772.05 625,772.55 650,775.30 675,770.80 700,771.30 725,772.30 750,772.05 775,773.80 790,774.55 805,773.80 850,770.05 872.5,770.55 915,769.55 965,768.30 1000,768.55 1025,765.80 1047.5,764.05 1072.5,766.55 1098.75,766.80" fill="none" stroke="#ff0a16" stroke-width="3.3" stroke-linejoin="round"/>
<line x1="125.45" x2="125.45" y1="875.7" y2="883.3" stroke="#222" stroke-width="2.9"/>
<line x1="319.55" x2="319.55" y1="875.7" y2="883.3" stroke="#222" stroke-width="2.9"/>
<line x1="513.65" x2="513.65" y1="875.7" y2="883.3" stroke="#222" stroke-width="2.9"/>
<line x1="707.75" x2="707.75" y1="875.7" y2="883.3" stroke="#222" stroke-width="2.9"/>
<line x1="901.85" x2="901.85" y1="875.7" y2="883.3" stroke="#222" stroke-width="2.9"/>
<line x1="1095.95" x2="1095.95" y1="875.7" y2="883.3" stroke="#222" stroke-width="2.9"/>
<line x1="67.8" x2="75.4" y1="579.20" y2="579.20" stroke="#222" stroke-width="2.9"/>
<line x1="67.8" x2="75.4" y1="276.50" y2="276.50" stroke="#222" stroke-width="2.9"/>
<text x="125.45" y="906" font-size="23.5" fill="#3a3a3a" text-anchor="middle">0</text>
<text x="319.55" y="906" font-size="23.5" fill="#3a3a3a" text-anchor="middle">1000</text>
<text x="513.65" y="906" font-size="23.5" fill="#3a3a3a" text-anchor="middle">2000</text>
<text x="707.75" y="906" font-size="23.5" fill="#3a3a3a" text-anchor="middle">3000</text>
<text x="901.85" y="906" font-size="23.5" fill="#3a3a3a" text-anchor="middle">4000</text>
<text x="1095.95" y="906" font-size="23.5" fill="#3a3a3a" text-anchor="middle">5000</text>
<text x="62.8" y="587.80" font-size="23.5" fill="#3a3a3a" text-anchor="end">1</text>
<text x="61.9" y="285.60" font-size="23.5" fill="#3a3a3a" text-anchor="end">2</text>
<text x="629.5" y="940" font-size="29.3" fill="#000" text-anchor="middle">rank(mean)</text>
<text transform="translate(36,446.3) rotate(-90)" font-size="29.3" fill="#000" text-anchor="middle">sd</text>
<text x="1228" y="334" font-size="29.3" fill="#000">count</text>
<defs><linearGradient id="lg" x1="0" y1="1" x2="0" y2="0">
<stop offset="0.0000" stop-color="#0d1e33"/>
<stop offset="0.0167" stop-color="#0e2036"/>
<stop offset="0.0333" stop-color="#0e2238"/>
<stop offset="0.0500" stop-color="#0f233b"/>
<stop offset="0.0667" stop-color="#10253e"/>
<stop offset="0.0833" stop-color="#11273f"/>
<stop offset="0.1000" stop-color="#122842"/>
<stop offset="0.1167" stop-color="#122a45"/>
<stop offset="0.1333" stop-color="#132c47"/>
<stop offset="0.1500" stop-color="#142e4a"/>
<stop offset="0.1667" stop-color="#15304d"/>
<stop offset="0.1833" stop-color="#163150"/>
<stop offset="0.2000" stop-color="#173353"/>
<stop offset="0.2167" stop-color="#173555"/>
<stop offset="0.2333" stop-color="#183758"/>
<stop offset="0.2500" stop-color="#19395b"/>
<stop offset="0.2667" stop-color="#1a3c5e"/>
<stop offset="0.2833" stop-color="#1c3e61"/>
<stop offset="0.3000" stop-color="#1d3f64"/>
<stop offset="0.3167" stop-color="#1d4166"/>
<stop offset="0.3333" stop-color="#1e4369"/>
<stop offset="0.3500" stop-color="#1f456c"/>
<stop offset="0.3667" stop-color="#204770"/>
<stop offset="0.3833" stop-color="#214a73"/>
<stop offset="0.4000" stop-color="#224c76"/>
<stop offset="0.4167" stop-color="#234e79"/>
<stop offset="0.4333" stop-color="#24507c"/>
<stop offset="0.4500" stop-color="#24527f"/>
<stop offset="0.4667" stop-color="#265583"/>
<stop offset="0.4833" stop-color="#275786"/>
<stop offset="0.5000" stop-color="#285989"/>
<stop offset="0.5167" stop-color="#295b8c"/>
<stop offset="0.5333" stop-color="#2a5e90"/>
<stop offset="0.5500" stop-color="#2b6093"/>
<stop offset="0.5667" stop-color="#2c6296"/>
<stop offset="0.5833" stop-color="#2d6499"/>
<stop offset="0.6000" stop-color="#2e679d"/>
<stop offset="0.6167" stop-color="#2f69a0"/>
<stop offset="0.6333" stop-color="#306ba3"/>
<stop offset="0.6500" stop-color="#316ea8"/>
<stop offset="0.6667" stop-color="#3271ab"/>
<stop offset="0.6833" stop-color="#3373af"/>
<stop offset="0.7000" stop-color="#3576b2"/>
<stop offset="0.7167" stop-color="#3678b5"/>
<stop offset="0.7333" stop-color="#377ab9"/>
<stop offset="0.7500" stop-color="#387dbc"/>
<stop offset="0.7667" stop-color="#397fc1"/>
<stop offset="0.7833" stop-color="#3a82c4"/>
<stop offset="0.8000" stop-color="#3c85c8"/>
<stop offset="0.8167" stop-color="#3d87cb"/>
<stop offset="0.8333" stop-color="#3d8acf"/>
<stop offset="0.8500" stop-color="#3e8cd3"/>
<stop offset="0.8667" stop-color="#3f8ed7"/>
<stop offset="0.8833" stop-color="#4192da"/>
<stop offset="0.9000" stop-color="#4294de"/>
<stop offset="0.9167" stop-color="#4397e2"/>
<stop offset="0.9333" stop-color="#4499e6"/>
<stop offset="0.9500" stop-color="#459dea"/>
<stop offset="0.9667" stop-color="#479fed"/>
<stop offset="0.9833" stop-color="#48a2f2"/>
<stop offset="1.0000" stop-color="#49a5f5"/>
</linearGradient></defs>
<rect x="1228" y="351" width="46" height="230.4" fill="url(#lg)"/>
<line x1="1228" x2="1237.2" y1="581.40" y2="581.40" stroke="#fff" stroke-opacity="0.75" stroke-width="1.4"/>
<line x1="1264.8" x2="1274" y1="581.40" y2="581.40" stroke="#fff" stroke-opacity="0.75" stroke-width="1.4"/>
<text x="1295.3" y="590.40" font-size="23.5" fill="#000">1</text>
<line x1="1228" x2="1237.2" y1="509.90" y2="509.90" stroke="#fff" stroke-opacity="0.75" stroke-width="1.4"/>
<line x1="1264.8" x2="1274" y1="509.90" y2="509.90" stroke="#fff" stroke-opacity="0.75" stroke-width="1.4"/>
<text x="1295.3" y="518.90" font-size="23.5" fill="#000">3</text>
<line x1="1228" x2="1237.2" y1="438.40" y2="438.40" stroke="#fff" stroke-opacity="0.75" stroke-width="1.4"/>
<line x1="1264.8" x2="1274" y1="438.40" y2="438.40" stroke="#fff" stroke-opacity="0.75" stroke-width="1.4"/>
<text x="1295.3" y="447.40" font-size="23.5" fill="#000">7</text>
<line x1="1228" x2="1237.2" y1="366.90" y2="366.90" stroke="#fff" stroke-opacity="0.75" stroke-width="1.4"/>
<line x1="1264.8" x2="1274" y1="366.90" y2="366.90" stroke="#fff" stroke-opacity="0.75" stroke-width="1.4"/>
<text x="1288.2" y="376.50" font-size="23.5" fill="#000">20</text>
</svg></body></html>
